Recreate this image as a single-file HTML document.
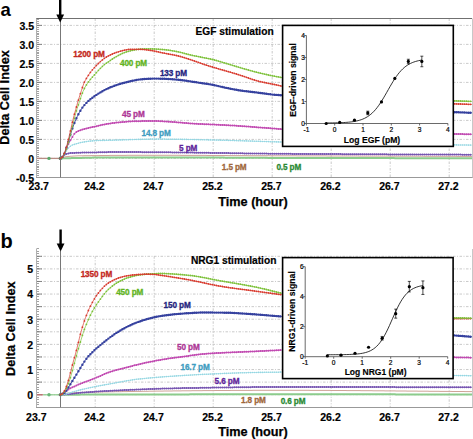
<!DOCTYPE html>
<html><head><meta charset="utf-8"><style>
html,body{margin:0;padding:0;background:#fff;width:473px;height:439px;overflow:hidden;}
svg{display:block;font-family:"Liberation Sans",sans-serif;}
</style></head><body>
<svg width="473" height="439" viewBox="0 0 473 439"><text x="0.6" y="15.6" font-family="Liberation Sans, sans-serif" font-weight="bold" font-size="18.5">a</text>
<line x1="37" y1="25.40" x2="472" y2="25.40" stroke="#bdbdbd" stroke-width="0.8" stroke-dasharray="2.5,1.5,1,1.5"/>
<line x1="37" y1="44.40" x2="472" y2="44.40" stroke="#bdbdbd" stroke-width="0.8" stroke-dasharray="2.5,1.5,1,1.5"/>
<line x1="37" y1="63.40" x2="472" y2="63.40" stroke="#bdbdbd" stroke-width="0.8" stroke-dasharray="2.5,1.5,1,1.5"/>
<line x1="37" y1="82.40" x2="472" y2="82.40" stroke="#bdbdbd" stroke-width="0.8" stroke-dasharray="2.5,1.5,1,1.5"/>
<line x1="37" y1="101.40" x2="472" y2="101.40" stroke="#bdbdbd" stroke-width="0.8" stroke-dasharray="2.5,1.5,1,1.5"/>
<line x1="37" y1="120.40" x2="472" y2="120.40" stroke="#bdbdbd" stroke-width="0.8" stroke-dasharray="2.5,1.5,1,1.5"/>
<line x1="37" y1="139.40" x2="472" y2="139.40" stroke="#bdbdbd" stroke-width="0.8" stroke-dasharray="2.5,1.5,1,1.5"/>
<line x1="37" y1="158.40" x2="472" y2="158.40" stroke="#bdbdbd" stroke-width="0.8" stroke-dasharray="2.5,1.5,1,1.5"/>
<line x1="95.20" y1="18.50" x2="95.20" y2="177.50" stroke="#bdbdbd" stroke-width="0.8" stroke-dasharray="2.5,1.5,1,1.5"/>
<line x1="154.20" y1="18.50" x2="154.20" y2="177.50" stroke="#bdbdbd" stroke-width="0.8" stroke-dasharray="2.5,1.5,1,1.5"/>
<line x1="213.20" y1="18.50" x2="213.20" y2="177.50" stroke="#bdbdbd" stroke-width="0.8" stroke-dasharray="2.5,1.5,1,1.5"/>
<line x1="272.20" y1="18.50" x2="272.20" y2="177.50" stroke="#bdbdbd" stroke-width="0.8" stroke-dasharray="2.5,1.5,1,1.5"/>
<line x1="331.20" y1="18.50" x2="331.20" y2="177.50" stroke="#bdbdbd" stroke-width="0.8" stroke-dasharray="2.5,1.5,1,1.5"/>
<line x1="390.20" y1="18.50" x2="390.20" y2="177.50" stroke="#bdbdbd" stroke-width="0.8" stroke-dasharray="2.5,1.5,1,1.5"/>
<line x1="449.20" y1="18.50" x2="449.20" y2="177.50" stroke="#bdbdbd" stroke-width="0.8" stroke-dasharray="2.5,1.5,1,1.5"/>
<line x1="36.5" y1="177.50" x2="39" y2="177.50" stroke="#8a8a8a" stroke-width="0.8"/>
<line x1="36.5" y1="175.50" x2="39" y2="175.50" stroke="#8a8a8a" stroke-width="0.8"/>
<line x1="36.5" y1="173.50" x2="39" y2="173.50" stroke="#8a8a8a" stroke-width="0.8"/>
<line x1="36.5" y1="171.50" x2="39" y2="171.50" stroke="#8a8a8a" stroke-width="0.8"/>
<line x1="36.5" y1="169.50" x2="39" y2="169.50" stroke="#8a8a8a" stroke-width="0.8"/>
<line x1="36.5" y1="167.50" x2="39" y2="167.50" stroke="#8a8a8a" stroke-width="0.8"/>
<line x1="36.5" y1="166.50" x2="39" y2="166.50" stroke="#8a8a8a" stroke-width="0.8"/>
<line x1="36.5" y1="164.50" x2="39" y2="164.50" stroke="#8a8a8a" stroke-width="0.8"/>
<line x1="36.5" y1="162.50" x2="39" y2="162.50" stroke="#8a8a8a" stroke-width="0.8"/>
<line x1="36.5" y1="160.50" x2="39" y2="160.50" stroke="#8a8a8a" stroke-width="0.8"/>
<line x1="36.5" y1="158.50" x2="39" y2="158.50" stroke="#8a8a8a" stroke-width="0.8"/>
<line x1="36.5" y1="156.50" x2="39" y2="156.50" stroke="#8a8a8a" stroke-width="0.8"/>
<line x1="36.5" y1="154.50" x2="39" y2="154.50" stroke="#8a8a8a" stroke-width="0.8"/>
<line x1="36.5" y1="152.50" x2="39" y2="152.50" stroke="#8a8a8a" stroke-width="0.8"/>
<line x1="36.5" y1="150.50" x2="39" y2="150.50" stroke="#8a8a8a" stroke-width="0.8"/>
<line x1="36.5" y1="148.50" x2="39" y2="148.50" stroke="#8a8a8a" stroke-width="0.8"/>
<line x1="36.5" y1="147.50" x2="39" y2="147.50" stroke="#8a8a8a" stroke-width="0.8"/>
<line x1="36.5" y1="145.50" x2="39" y2="145.50" stroke="#8a8a8a" stroke-width="0.8"/>
<line x1="36.5" y1="143.50" x2="39" y2="143.50" stroke="#8a8a8a" stroke-width="0.8"/>
<line x1="36.5" y1="141.50" x2="39" y2="141.50" stroke="#8a8a8a" stroke-width="0.8"/>
<line x1="36.5" y1="139.50" x2="39" y2="139.50" stroke="#8a8a8a" stroke-width="0.8"/>
<line x1="36.5" y1="137.50" x2="39" y2="137.50" stroke="#8a8a8a" stroke-width="0.8"/>
<line x1="36.5" y1="135.50" x2="39" y2="135.50" stroke="#8a8a8a" stroke-width="0.8"/>
<line x1="36.5" y1="133.50" x2="39" y2="133.50" stroke="#8a8a8a" stroke-width="0.8"/>
<line x1="36.5" y1="131.50" x2="39" y2="131.50" stroke="#8a8a8a" stroke-width="0.8"/>
<line x1="36.5" y1="129.50" x2="39" y2="129.50" stroke="#8a8a8a" stroke-width="0.8"/>
<line x1="36.5" y1="128.50" x2="39" y2="128.50" stroke="#8a8a8a" stroke-width="0.8"/>
<line x1="36.5" y1="126.50" x2="39" y2="126.50" stroke="#8a8a8a" stroke-width="0.8"/>
<line x1="36.5" y1="124.50" x2="39" y2="124.50" stroke="#8a8a8a" stroke-width="0.8"/>
<line x1="36.5" y1="122.50" x2="39" y2="122.50" stroke="#8a8a8a" stroke-width="0.8"/>
<line x1="36.5" y1="120.50" x2="39" y2="120.50" stroke="#8a8a8a" stroke-width="0.8"/>
<line x1="36.5" y1="118.50" x2="39" y2="118.50" stroke="#8a8a8a" stroke-width="0.8"/>
<line x1="36.5" y1="116.50" x2="39" y2="116.50" stroke="#8a8a8a" stroke-width="0.8"/>
<line x1="36.5" y1="114.50" x2="39" y2="114.50" stroke="#8a8a8a" stroke-width="0.8"/>
<line x1="36.5" y1="112.50" x2="39" y2="112.50" stroke="#8a8a8a" stroke-width="0.8"/>
<line x1="36.5" y1="110.50" x2="39" y2="110.50" stroke="#8a8a8a" stroke-width="0.8"/>
<line x1="36.5" y1="108.50" x2="39" y2="108.50" stroke="#8a8a8a" stroke-width="0.8"/>
<line x1="36.5" y1="107.50" x2="39" y2="107.50" stroke="#8a8a8a" stroke-width="0.8"/>
<line x1="36.5" y1="105.50" x2="39" y2="105.50" stroke="#8a8a8a" stroke-width="0.8"/>
<line x1="36.5" y1="103.50" x2="39" y2="103.50" stroke="#8a8a8a" stroke-width="0.8"/>
<line x1="36.5" y1="101.50" x2="39" y2="101.50" stroke="#8a8a8a" stroke-width="0.8"/>
<line x1="36.5" y1="99.50" x2="39" y2="99.50" stroke="#8a8a8a" stroke-width="0.8"/>
<line x1="36.5" y1="97.50" x2="39" y2="97.50" stroke="#8a8a8a" stroke-width="0.8"/>
<line x1="36.5" y1="95.50" x2="39" y2="95.50" stroke="#8a8a8a" stroke-width="0.8"/>
<line x1="36.5" y1="93.50" x2="39" y2="93.50" stroke="#8a8a8a" stroke-width="0.8"/>
<line x1="36.5" y1="91.50" x2="39" y2="91.50" stroke="#8a8a8a" stroke-width="0.8"/>
<line x1="36.5" y1="89.50" x2="39" y2="89.50" stroke="#8a8a8a" stroke-width="0.8"/>
<line x1="36.5" y1="88.50" x2="39" y2="88.50" stroke="#8a8a8a" stroke-width="0.8"/>
<line x1="36.5" y1="86.50" x2="39" y2="86.50" stroke="#8a8a8a" stroke-width="0.8"/>
<line x1="36.5" y1="84.50" x2="39" y2="84.50" stroke="#8a8a8a" stroke-width="0.8"/>
<line x1="36.5" y1="82.50" x2="39" y2="82.50" stroke="#8a8a8a" stroke-width="0.8"/>
<line x1="36.5" y1="80.50" x2="39" y2="80.50" stroke="#8a8a8a" stroke-width="0.8"/>
<line x1="36.5" y1="78.50" x2="39" y2="78.50" stroke="#8a8a8a" stroke-width="0.8"/>
<line x1="36.5" y1="76.50" x2="39" y2="76.50" stroke="#8a8a8a" stroke-width="0.8"/>
<line x1="36.5" y1="74.50" x2="39" y2="74.50" stroke="#8a8a8a" stroke-width="0.8"/>
<line x1="36.5" y1="72.50" x2="39" y2="72.50" stroke="#8a8a8a" stroke-width="0.8"/>
<line x1="36.5" y1="71.50" x2="39" y2="71.50" stroke="#8a8a8a" stroke-width="0.8"/>
<line x1="36.5" y1="69.50" x2="39" y2="69.50" stroke="#8a8a8a" stroke-width="0.8"/>
<line x1="36.5" y1="67.50" x2="39" y2="67.50" stroke="#8a8a8a" stroke-width="0.8"/>
<line x1="36.5" y1="65.50" x2="39" y2="65.50" stroke="#8a8a8a" stroke-width="0.8"/>
<line x1="36.5" y1="63.50" x2="39" y2="63.50" stroke="#8a8a8a" stroke-width="0.8"/>
<line x1="36.5" y1="61.50" x2="39" y2="61.50" stroke="#8a8a8a" stroke-width="0.8"/>
<line x1="36.5" y1="59.50" x2="39" y2="59.50" stroke="#8a8a8a" stroke-width="0.8"/>
<line x1="36.5" y1="57.50" x2="39" y2="57.50" stroke="#8a8a8a" stroke-width="0.8"/>
<line x1="36.5" y1="55.50" x2="39" y2="55.50" stroke="#8a8a8a" stroke-width="0.8"/>
<line x1="36.5" y1="53.50" x2="39" y2="53.50" stroke="#8a8a8a" stroke-width="0.8"/>
<line x1="36.5" y1="52.50" x2="39" y2="52.50" stroke="#8a8a8a" stroke-width="0.8"/>
<line x1="36.5" y1="50.50" x2="39" y2="50.50" stroke="#8a8a8a" stroke-width="0.8"/>
<line x1="36.5" y1="48.50" x2="39" y2="48.50" stroke="#8a8a8a" stroke-width="0.8"/>
<line x1="36.5" y1="46.50" x2="39" y2="46.50" stroke="#8a8a8a" stroke-width="0.8"/>
<line x1="36.5" y1="44.50" x2="39" y2="44.50" stroke="#8a8a8a" stroke-width="0.8"/>
<line x1="36.5" y1="42.50" x2="39" y2="42.50" stroke="#8a8a8a" stroke-width="0.8"/>
<line x1="36.5" y1="40.50" x2="39" y2="40.50" stroke="#8a8a8a" stroke-width="0.8"/>
<line x1="36.5" y1="38.50" x2="39" y2="38.50" stroke="#8a8a8a" stroke-width="0.8"/>
<line x1="36.5" y1="36.50" x2="39" y2="36.50" stroke="#8a8a8a" stroke-width="0.8"/>
<line x1="36.5" y1="34.50" x2="39" y2="34.50" stroke="#8a8a8a" stroke-width="0.8"/>
<line x1="36.5" y1="33.50" x2="39" y2="33.50" stroke="#8a8a8a" stroke-width="0.8"/>
<line x1="36.5" y1="31.50" x2="39" y2="31.50" stroke="#8a8a8a" stroke-width="0.8"/>
<line x1="36.5" y1="29.50" x2="39" y2="29.50" stroke="#8a8a8a" stroke-width="0.8"/>
<line x1="36.5" y1="27.50" x2="39" y2="27.50" stroke="#8a8a8a" stroke-width="0.8"/>
<line x1="36.5" y1="25.50" x2="39" y2="25.50" stroke="#8a8a8a" stroke-width="0.8"/>
<line x1="36.5" y1="23.50" x2="39" y2="23.50" stroke="#8a8a8a" stroke-width="0.8"/>
<line x1="36.5" y1="21.50" x2="39" y2="21.50" stroke="#8a8a8a" stroke-width="0.8"/>
<line x1="36.5" y1="19.50" x2="39" y2="19.50" stroke="#8a8a8a" stroke-width="0.8"/>
<line x1="36.5" y1="25.40" x2="42" y2="25.40" stroke="#777" stroke-width="0.9"/>
<line x1="36.5" y1="44.40" x2="42" y2="44.40" stroke="#777" stroke-width="0.9"/>
<line x1="36.5" y1="63.40" x2="42" y2="63.40" stroke="#777" stroke-width="0.9"/>
<line x1="36.5" y1="82.40" x2="42" y2="82.40" stroke="#777" stroke-width="0.9"/>
<line x1="36.5" y1="101.40" x2="42" y2="101.40" stroke="#777" stroke-width="0.9"/>
<line x1="36.5" y1="120.40" x2="42" y2="120.40" stroke="#777" stroke-width="0.9"/>
<line x1="36.5" y1="139.40" x2="42" y2="139.40" stroke="#777" stroke-width="0.9"/>
<line x1="36.5" y1="158.40" x2="42" y2="158.40" stroke="#777" stroke-width="0.9"/>
<line x1="36.5" y1="18.50" x2="36.5" y2="177.50" stroke="#b0b0b0" stroke-width="1"/>
<line x1="36" y1="177.50" x2="473" y2="177.50" stroke="#999" stroke-width="1"/>
<line x1="472.5" y1="18.50" x2="472.5" y2="177.50" stroke="#c8c8c8" stroke-width="1"/>
<line x1="36.3" y1="18.50" x2="472" y2="18.50" stroke="#707070" stroke-width="1"/>
<text x="34" y="29.80" font-family="Liberation Sans, sans-serif" font-weight="bold" font-size="10.5" text-anchor="end" stroke="#000" stroke-width="0.2">3.5</text>
<text x="34" y="48.80" font-family="Liberation Sans, sans-serif" font-weight="bold" font-size="10.5" text-anchor="end" stroke="#000" stroke-width="0.2">3.0</text>
<text x="34" y="67.80" font-family="Liberation Sans, sans-serif" font-weight="bold" font-size="10.5" text-anchor="end" stroke="#000" stroke-width="0.2">2.5</text>
<text x="34" y="86.80" font-family="Liberation Sans, sans-serif" font-weight="bold" font-size="10.5" text-anchor="end" stroke="#000" stroke-width="0.2">2.0</text>
<text x="34" y="105.80" font-family="Liberation Sans, sans-serif" font-weight="bold" font-size="10.5" text-anchor="end" stroke="#000" stroke-width="0.2">1.5</text>
<text x="34" y="124.80" font-family="Liberation Sans, sans-serif" font-weight="bold" font-size="10.5" text-anchor="end" stroke="#000" stroke-width="0.2">1.0</text>
<text x="34" y="143.80" font-family="Liberation Sans, sans-serif" font-weight="bold" font-size="10.5" text-anchor="end" stroke="#000" stroke-width="0.2">0.5</text>
<text x="34" y="162.80" font-family="Liberation Sans, sans-serif" font-weight="bold" font-size="10.5" text-anchor="end" stroke="#000" stroke-width="0.2">0</text>
<text x="34" y="181.80" font-family="Liberation Sans, sans-serif" font-weight="bold" font-size="10.5" text-anchor="end" stroke="#000" stroke-width="0.2">-0.5</text>
<text x="38.70" y="190.4" font-family="Liberation Sans, sans-serif" font-weight="bold" font-size="10.5" text-anchor="middle" stroke="#000" stroke-width="0.2">23.7</text>
<text x="94.40" y="190.4" font-family="Liberation Sans, sans-serif" font-weight="bold" font-size="10.5" text-anchor="middle" stroke="#000" stroke-width="0.2">24.2</text>
<text x="153.40" y="190.4" font-family="Liberation Sans, sans-serif" font-weight="bold" font-size="10.5" text-anchor="middle" stroke="#000" stroke-width="0.2">24.7</text>
<text x="212.40" y="190.4" font-family="Liberation Sans, sans-serif" font-weight="bold" font-size="10.5" text-anchor="middle" stroke="#000" stroke-width="0.2">25.2</text>
<text x="271.40" y="190.4" font-family="Liberation Sans, sans-serif" font-weight="bold" font-size="10.5" text-anchor="middle" stroke="#000" stroke-width="0.2">25.7</text>
<text x="330.40" y="190.4" font-family="Liberation Sans, sans-serif" font-weight="bold" font-size="10.5" text-anchor="middle" stroke="#000" stroke-width="0.2">26.2</text>
<text x="389.40" y="190.4" font-family="Liberation Sans, sans-serif" font-weight="bold" font-size="10.5" text-anchor="middle" stroke="#000" stroke-width="0.2">26.7</text>
<text x="448.40" y="190.4" font-family="Liberation Sans, sans-serif" font-weight="bold" font-size="10.5" text-anchor="middle" stroke="#000" stroke-width="0.2">27.2</text>
<text x="253" y="205.5" font-family="Liberation Sans, sans-serif" font-weight="bold" font-size="12.7" text-anchor="middle" stroke="#000" stroke-width="0.25">Time (hour)</text>
<text transform="translate(9.4,97.5) rotate(-90)" font-family="Liberation Sans, sans-serif" font-weight="bold" font-size="12.7" text-anchor="middle" stroke="#000" stroke-width="0.25">Delta Cell Index</text>
<line x1="60.5" y1="18" x2="60.5" y2="177.4" stroke="#777" stroke-width="1"/>
<line x1="37" y1="158.4" x2="60.4" y2="158.4" stroke="#b88c84" stroke-width="1.3"/>
<circle cx="49" cy="158.4" r="1.7" fill="#5aa86a"/><circle cx="60.4" cy="158.4" r="1.8" fill="#5aa86a"/>
<path d="M60.4,158.4 61.4,158.4 62.4,158.4 63.4,158.3 64.5,158.3 65.5,158.3 66.5,158.3 67.5,158.2 68.5,158.2 69.5,158.2 70.6,158.2 71.6,158.1 72.6,158.1 73.6,158.1 74.6,158.0 75.6,158.0 76.6,158.0 77.7,158.0 78.7,157.9 79.7,157.9 80.7,157.9 81.7,157.9 82.7,157.8 83.8,157.8 84.8,157.8 85.8,157.8 86.8,157.7 87.8,157.7 88.8,157.7 89.8,157.7 90.9,157.7 91.9,157.7 92.9,157.6 93.9,157.6 94.9,157.6 95.9,157.6 97.0,157.6 98.0,157.6 99.0,157.6 100.0,157.6 101.0,157.6 102.0,157.6 103.0,157.6 104.0,157.6 105.0,157.6 106.0,157.6 107.0,157.6 108.0,157.6 109.0,157.6 110.0,157.6 111.0,157.6 112.0,157.6 113.0,157.6 114.0,157.6 115.0,157.6 116.0,157.6 117.0,157.6 118.0,157.6 119.0,157.6 120.0,157.6 121.0,157.6 122.0,157.6 123.0,157.6 124.0,157.6 125.0,157.6 126.0,157.6 127.0,157.6 128.0,157.6 129.0,157.6 130.0,157.6 131.0,157.6 132.0,157.6 133.0,157.6 134.0,157.6 135.0,157.6 136.0,157.6 137.0,157.6 138.0,157.6 139.0,157.6 140.0,157.6 141.0,157.6 142.0,157.6 143.0,157.6 144.0,157.6 145.0,157.6 146.0,157.6 147.0,157.6 148.0,157.6 149.0,157.6 150.0,157.6 151.0,157.6 152.0,157.6 153.0,157.6 154.0,157.6 155.0,157.6 156.0,157.6 157.0,157.6 158.0,157.6 159.0,157.6 160.0,157.6 161.0,157.6 162.0,157.6 163.0,157.6 164.0,157.6 165.0,157.6 166.0,157.6 167.0,157.6 168.0,157.6 169.0,157.6 170.0,157.6 171.0,157.6 172.0,157.6 173.0,157.6 174.0,157.6 175.0,157.6 176.0,157.6 177.0,157.6 178.0,157.6 179.0,157.6 180.0,157.6 181.0,157.6 182.0,157.6 183.0,157.6 184.0,157.6 185.0,157.6 186.0,157.6 187.0,157.6 188.0,157.6 189.0,157.6 190.0,157.6 191.0,157.6 192.0,157.6 193.0,157.6 194.0,157.6 195.0,157.6 196.0,157.6 197.0,157.6 198.0,157.6 199.0,157.6 200.0,157.6 201.0,157.6 202.0,157.6 203.0,157.6 204.0,157.6 205.0,157.6 206.0,157.6 207.0,157.6 208.0,157.6 209.0,157.6 210.0,157.6 211.0,157.6 212.0,157.6 213.0,157.6 214.0,157.6 215.0,157.6 216.0,157.6 217.0,157.6 218.0,157.6 219.0,157.6 220.0,157.6 221.0,157.6 222.0,157.6 223.0,157.6 224.0,157.6 225.0,157.7 226.0,157.7 227.0,157.7 228.0,157.7 229.0,157.7 230.0,157.7 231.0,157.7 232.0,157.7 233.0,157.7 234.0,157.7 235.0,157.7 236.0,157.7 237.0,157.7 238.0,157.7 239.0,157.7 240.0,157.7 241.0,157.7 242.0,157.7 243.0,157.7 244.0,157.7 245.0,157.7 246.0,157.7 247.0,157.8 248.0,157.8 249.0,157.8 250.0,157.8 251.0,157.8 252.0,157.8 253.0,157.8 254.0,157.8 255.0,157.8 256.0,157.8 257.0,157.8 258.0,157.8 259.0,157.8 260.0,157.8 261.0,157.8 262.0,157.8 263.0,157.8 264.0,157.8 265.0,157.8 266.0,157.8 267.0,157.8 268.0,157.9 269.0,157.9 270.0,157.9 271.0,157.9 272.0,157.9 273.0,157.9 274.0,157.9 275.0,157.9 276.0,157.9 277.0,157.9 278.0,157.9 279.0,157.9 280.0,157.9 281.0,157.9 282.0,157.9 283.0,157.9 284.0,157.9 285.0,157.9 286.0,157.9 287.0,157.9 288.0,157.9 289.0,157.9 290.0,157.9 291.0,157.9 292.0,157.9 293.0,157.9 294.0,157.9 295.0,157.9 296.0,157.9 297.0,157.9 298.0,157.9 299.0,157.9 300.0,157.9 301.0,158.0 302.0,158.0 303.0,158.0 304.0,158.0 305.0,158.0 306.0,158.0 307.0,158.0 308.0,158.0 309.0,158.0 310.0,158.0 311.0,158.0 312.0,158.0 313.0,158.0 314.0,158.0 315.0,158.0 316.0,158.0 317.0,158.0 318.0,158.0 319.0,158.0 320.0,158.0 321.0,158.0 322.0,158.0 323.0,158.0 324.0,158.0 325.0,158.0 326.0,158.0 327.0,158.0 328.0,158.0 329.0,158.0 330.0,158.0 331.0,158.0 332.0,158.0 333.0,158.0 334.0,158.0 335.0,158.0 336.0,158.0 337.0,158.0 338.0,158.0 339.0,158.0 340.0,158.0 341.0,158.0 342.0,158.0 343.0,158.0 344.0,158.0 345.0,158.1 346.0,158.1 347.0,158.1 348.0,158.1 349.0,158.1 350.0,158.1 351.0,158.1 352.0,158.1 353.0,158.1 354.0,158.1 355.0,158.1 356.0,158.1 357.0,158.1 358.0,158.1 359.0,158.1 360.0,158.1 361.0,158.1 362.0,158.1 363.0,158.1 364.0,158.1 365.0,158.1 366.0,158.1 367.0,158.1 368.0,158.1 369.0,158.1 370.0,158.1 371.0,158.1 372.0,158.1 373.0,158.1 374.0,158.1 375.0,158.1 376.0,158.1 377.0,158.1 378.0,158.1 379.0,158.1 380.0,158.1 381.0,158.1 382.0,158.1 383.0,158.1 384.0,158.1 385.0,158.1 386.0,158.1 387.0,158.1 388.0,158.1 389.0,158.1 390.0,158.1 391.0,158.1 392.0,158.1 393.0,158.1 394.0,158.1 395.0,158.2 396.0,158.2 397.0,158.2 398.0,158.2 399.0,158.2 400.0,158.2 401.0,158.2 402.0,158.2 403.0,158.2 404.0,158.2 405.0,158.2 406.0,158.2 407.0,158.2 408.0,158.2 409.0,158.2 410.0,158.2 411.0,158.2 412.0,158.2 413.0,158.2 414.0,158.2 415.0,158.2 416.0,158.2 417.0,158.2 418.0,158.2 419.0,158.2 420.0,158.2 421.0,158.2 422.0,158.2 423.0,158.2 424.0,158.2 425.0,158.2 426.0,158.2 427.0,158.2 428.0,158.2 429.0,158.2 430.0,158.2 431.0,158.2 432.0,158.2 433.0,158.2 434.0,158.2 435.0,158.2 436.0,158.2 437.0,158.2 438.0,158.2 439.0,158.2 440.0,158.2 441.0,158.2 442.0,158.2 443.0,158.2 444.0,158.2 445.0,158.2 446.0,158.2 447.0,158.2 448.0,158.3 449.0,158.3 450.0,158.3 451.0,158.3 452.0,158.3 453.0,158.3 454.0,158.3 455.0,158.3 456.0,158.3 457.0,158.3 458.0,158.3 459.0,158.3 460.0,158.3 461.0,158.3 462.0,158.3 463.0,158.3 464.0,158.3 465.0,158.3 466.0,158.3 467.0,158.3 468.0,158.3 469.0,158.3 470.0,158.3 471.0,158.3 472.0,158.3" fill="none" stroke="#8ccc8c" stroke-width="2.0" stroke-linejoin="round"/>
<path d="M60.4,158.0 61.6,157.6 62.8,157.3 64.0,157.0 65.0,156.9 66.0,156.7 67.0,156.6 68.0,156.5 69.0,156.4 70.0,156.3 71.0,156.2 72.0,156.2 73.0,156.1 74.0,156.0 75.0,156.0 76.0,155.9 77.0,155.9 78.0,155.8 79.0,155.8 80.0,155.8 81.0,155.8 82.0,155.8 83.0,155.8 84.0,155.7 85.0,155.7 86.0,155.7 87.0,155.7 88.0,155.7 89.0,155.7 90.0,155.7 91.0,155.6 92.0,155.6 93.0,155.6 94.0,155.6 95.0,155.6 96.0,155.6 97.0,155.6 98.0,155.6 99.0,155.6 100.0,155.5 101.0,155.5 102.0,155.5 103.0,155.5 104.0,155.5 105.0,155.5 106.0,155.5 107.0,155.5 108.0,155.5 109.0,155.5 110.0,155.4 111.0,155.4 112.0,155.4 113.0,155.4 114.0,155.4 115.0,155.4 116.0,155.4 117.0,155.4 118.0,155.4 119.0,155.4 120.0,155.4 121.0,155.4 122.0,155.4 123.0,155.4 124.0,155.4 125.0,155.4 126.0,155.4 127.0,155.3 128.0,155.3 129.0,155.3 130.0,155.3 131.0,155.3 132.0,155.3 133.0,155.3 134.0,155.3 135.0,155.3 136.0,155.3 137.0,155.3 138.0,155.3 139.0,155.3 140.0,155.3 141.0,155.3 142.0,155.3 143.0,155.3 144.0,155.3 145.0,155.3 146.0,155.3 147.0,155.3 148.0,155.3 149.0,155.3 150.0,155.3 151.0,155.3 152.0,155.3 153.0,155.3 154.0,155.3 155.0,155.3 156.0,155.3 157.0,155.3 158.0,155.3 159.0,155.3 160.0,155.3 161.0,155.3 162.0,155.3 163.0,155.3 164.0,155.3 165.0,155.3 166.0,155.3 167.0,155.3 168.0,155.3 169.0,155.3 170.0,155.3 171.0,155.3 172.0,155.3 173.0,155.3 174.0,155.3 175.0,155.3 176.0,155.3 177.0,155.3 178.0,155.3 179.0,155.3 180.0,155.3 181.0,155.4 182.0,155.4 183.0,155.4 184.0,155.4 185.0,155.4 186.0,155.4 187.0,155.4 188.0,155.4 189.0,155.4 190.0,155.4 191.0,155.4 192.0,155.4 193.0,155.4 194.0,155.4 195.0,155.4 196.0,155.4 197.0,155.4 198.0,155.4 199.0,155.4 200.0,155.4 201.0,155.4 202.0,155.4 203.0,155.4 204.0,155.4 205.0,155.4 206.0,155.4 207.0,155.5 208.0,155.5 209.0,155.5 210.0,155.5 211.0,155.5 212.0,155.5 213.0,155.5 214.0,155.5 215.0,155.5 216.0,155.5 217.0,155.5 218.0,155.5 219.0,155.5 220.0,155.5 221.0,155.5 222.0,155.5 223.0,155.5 224.0,155.5 225.0,155.5 226.0,155.5 227.0,155.5 228.0,155.6 229.0,155.6 230.0,155.6 231.0,155.6 232.0,155.6 233.0,155.6 234.0,155.6 235.0,155.6 236.0,155.6 237.0,155.6 238.0,155.6 239.0,155.6 240.0,155.6 241.0,155.6 242.0,155.6 243.0,155.6 244.0,155.6 245.0,155.6 246.0,155.6 247.0,155.6 248.0,155.7 249.0,155.7 250.0,155.7 251.0,155.7 252.0,155.7 253.0,155.7 254.0,155.7 255.0,155.7 256.0,155.7 257.0,155.7 258.0,155.7 259.0,155.7 260.0,155.7 261.0,155.7 262.0,155.7 263.0,155.7 264.0,155.7 265.0,155.7 266.0,155.7 267.0,155.7 268.0,155.7 269.0,155.7 270.0,155.8 271.0,155.8 272.0,155.8 273.0,155.8 274.0,155.8 275.0,155.8 276.0,155.8 277.0,155.8 278.0,155.8 279.0,155.8 280.0,155.8 281.0,155.8 282.0,155.8 283.0,155.8 284.0,155.8 285.0,155.8 286.0,155.8 287.0,155.8 288.0,155.8 289.0,155.8 290.0,155.8 291.0,155.8 292.0,155.8 293.0,155.8 294.0,155.8 295.0,155.8 296.0,155.8 297.0,155.9 298.0,155.9 299.0,155.9 300.0,155.9 301.0,155.9 302.0,155.9 303.0,155.9 304.0,155.9 305.0,155.9 306.0,155.9 307.0,155.9 308.0,155.9 309.0,155.9 310.0,155.9 311.0,155.9 312.0,155.9 313.0,155.9 314.0,155.9 315.0,155.9 316.0,155.9 317.0,155.9 318.0,155.9 319.0,155.9 320.0,155.9 321.0,155.9 322.0,155.9 323.0,155.9 324.0,155.9 325.0,155.9 326.0,155.9 327.0,156.0 328.0,156.0 329.0,156.0 330.0,156.0 331.0,156.0 332.0,156.0 333.0,156.0 334.0,156.0 335.0,156.0 336.0,156.0 337.0,156.0 338.0,156.0 339.0,156.0 340.0,156.0 341.0,156.0 342.0,156.0 343.0,156.0 344.0,156.0 345.0,156.0 346.0,156.0 347.0,156.0 348.0,156.0 349.0,156.0 350.0,156.0 351.0,156.0 352.0,156.0 353.0,156.0 354.0,156.0 355.0,156.0 356.0,156.0 357.0,156.0 358.0,156.0 359.0,156.1 360.0,156.1 361.0,156.1 362.0,156.1 363.0,156.1 364.0,156.1 365.0,156.1 366.0,156.1 367.0,156.1 368.0,156.1 369.0,156.1 370.0,156.1 371.0,156.1 372.0,156.1 373.0,156.1 374.0,156.1 375.0,156.1 376.0,156.1 377.0,156.1 378.0,156.1 379.0,156.1 380.0,156.1 381.0,156.1 382.0,156.1 383.0,156.1 384.0,156.1 385.0,156.1 386.0,156.1 387.0,156.1 388.0,156.1 389.0,156.1 390.0,156.1 391.0,156.2 392.0,156.2 393.0,156.2 394.0,156.2 395.0,156.2 396.0,156.2 397.0,156.2 398.0,156.2 399.0,156.2 400.0,156.2 401.0,156.2 402.0,156.2 403.0,156.2 404.0,156.2 405.0,156.2 406.0,156.2 407.0,156.2 408.0,156.2 409.0,156.2 410.0,156.2 411.0,156.2 412.0,156.2 413.0,156.2 414.0,156.2 415.0,156.2 416.0,156.2 417.0,156.2 418.0,156.2 419.0,156.2 420.0,156.2 421.0,156.2 422.0,156.2 423.0,156.2 424.0,156.3 425.0,156.3 426.0,156.3 427.0,156.3 428.0,156.3 429.0,156.3 430.0,156.3 431.0,156.3 432.0,156.3 433.0,156.3 434.0,156.3 435.0,156.3 436.0,156.3 437.0,156.3 438.0,156.3 439.0,156.3 440.0,156.3 441.0,156.3 442.0,156.3 443.0,156.3 444.0,156.3 445.0,156.3 446.0,156.3 447.0,156.3 448.0,156.3 449.0,156.3 450.0,156.3 451.0,156.3 452.0,156.3 453.0,156.3 454.0,156.3 455.0,156.3 456.0,156.3 457.0,156.4 458.0,156.4 459.0,156.4 460.0,156.4 461.0,156.4 462.0,156.4 463.0,156.4 464.0,156.4 465.0,156.4 466.0,156.4 467.0,156.4 468.0,156.4 469.0,156.4 470.0,156.4 471.0,156.4 472.0,156.4" fill="none" stroke="#cfa498" stroke-width="1.0" stroke-linejoin="round"/>
<path d="M60.4,158.4 61.2,157.7 62.0,157.0 63.1,155.9 64.2,155.0 65.1,154.4 66.0,154.0 67.1,153.7 68.2,153.4 69.2,153.2 70.3,153.1 71.3,153.0 72.4,153.0 73.4,152.9 74.4,152.9 75.4,152.8 76.5,152.8 77.5,152.8 78.5,152.7 79.6,152.7 80.6,152.7 81.6,152.6 82.7,152.6 83.7,152.6 84.7,152.6 85.7,152.6 86.8,152.5 87.8,152.5 88.8,152.5 89.9,152.5 90.9,152.5 91.9,152.5 92.9,152.4 94.0,152.4 95.0,152.4 96.0,152.4 97.0,152.4 98.0,152.3 99.0,152.3 100.0,152.3 101.0,152.3 102.0,152.3 103.0,152.2 104.0,152.2 105.0,152.2 106.0,152.2 107.0,152.2 108.0,152.2 109.0,152.1 110.0,152.1 111.0,152.1 112.0,152.1 113.0,152.1 114.0,152.1 115.0,152.1 116.0,152.1 117.0,152.1 118.0,152.1 119.0,152.1 120.0,152.1 121.0,152.1 122.0,152.1 123.0,152.1 124.0,152.1 125.0,152.1 126.0,152.1 127.0,152.1 128.0,152.1 129.0,152.1 130.0,152.1 131.0,152.1 132.0,152.1 133.0,152.1 134.0,152.1 135.0,152.1 136.0,152.1 137.0,152.1 138.0,152.1 139.0,152.1 140.0,152.1 141.0,152.1 142.0,152.2 143.0,152.2 144.0,152.2 145.0,152.2 146.0,152.2 147.0,152.2 148.0,152.2 149.0,152.2 150.0,152.2 151.0,152.2 152.0,152.2 153.0,152.2 154.0,152.2 155.0,152.2 156.0,152.2 157.0,152.2 158.0,152.2 159.0,152.2 160.0,152.2 161.0,152.2 162.0,152.2 163.0,152.3 164.0,152.3 165.0,152.3 166.0,152.3 167.0,152.3 168.0,152.3 169.0,152.3 170.0,152.3 171.0,152.3 172.0,152.4 173.0,152.4 174.0,152.4 175.0,152.4 176.0,152.4 177.0,152.4 178.0,152.4 179.0,152.5 180.0,152.5 181.0,152.5 182.0,152.5 183.0,152.5 184.0,152.5 185.0,152.5 186.0,152.5 187.0,152.6 188.0,152.6 189.0,152.6 190.0,152.6 191.0,152.6 192.0,152.6 193.0,152.6 194.0,152.6 195.0,152.7 196.0,152.7 197.0,152.7 198.0,152.7 199.0,152.7 200.0,152.7 201.0,152.7 202.0,152.8 203.0,152.8 204.0,152.8 205.0,152.8 206.0,152.8 207.0,152.8 208.0,152.8 209.0,152.8 210.0,152.9 211.0,152.9 212.0,152.9 213.0,152.9 214.0,152.9 215.0,152.9 216.0,152.9 217.0,153.0 218.0,153.0 219.0,153.0 220.0,153.0 221.0,153.0 222.0,153.0 223.0,153.1 224.0,153.1 225.0,153.1 226.0,153.1 227.0,153.1 228.0,153.1 229.0,153.1 230.0,153.2 231.0,153.2 232.0,153.2 233.0,153.2 234.0,153.2 235.0,153.2 236.0,153.2 237.0,153.3 238.0,153.3 239.0,153.3 240.0,153.3 241.0,153.3 242.0,153.3 243.0,153.3 244.0,153.4 245.0,153.4 246.0,153.4 247.0,153.4 248.0,153.4 249.0,153.4 250.0,153.4 251.0,153.4 252.0,153.5 253.0,153.5 254.0,153.5 255.0,153.5 256.0,153.5 257.0,153.5 258.0,153.5 259.0,153.6 260.0,153.6 261.0,153.6 262.0,153.6 263.0,153.6 264.0,153.6 265.0,153.6 266.0,153.6 267.0,153.6 268.0,153.7 269.0,153.7 270.0,153.7 271.0,153.7 272.0,153.7 273.0,153.7 274.0,153.7 275.0,153.7 276.0,153.7 277.0,153.7 278.0,153.8 279.0,153.8 280.0,153.8 281.0,153.8 282.0,153.8 283.0,153.8 284.0,153.8 285.0,153.8 286.0,153.8 287.0,153.8 288.0,153.8 289.0,153.8 290.0,153.8 291.0,153.9 292.0,153.9 293.0,153.9 294.0,153.9 295.0,153.9 296.0,153.9 297.0,153.9 298.0,153.9 299.0,153.9 300.0,153.9 301.0,153.9 302.0,153.9 303.0,153.9 304.0,153.9 305.0,153.9 306.0,153.9 307.0,154.0 308.0,154.0 309.0,154.0 310.0,154.0 311.0,154.0 312.0,154.0 313.0,154.0 314.0,154.0 315.0,154.0 316.0,154.0 317.0,154.0 318.0,154.0 319.0,154.0 320.0,154.0 321.0,154.0 322.0,154.0 323.0,154.0 324.0,154.1 325.0,154.1 326.0,154.1 327.0,154.1 328.0,154.1 329.0,154.1 330.0,154.1 331.0,154.1 332.0,154.1 333.0,154.1 334.0,154.1 335.0,154.1 336.0,154.1 337.0,154.1 338.0,154.1 339.0,154.1 340.0,154.1 341.0,154.1 342.0,154.1 343.0,154.2 344.0,154.2 345.0,154.2 346.0,154.2 347.0,154.2 348.0,154.2 349.0,154.2 350.0,154.2 351.0,154.2 352.0,154.2 353.0,154.2 354.0,154.2 355.0,154.2 356.0,154.2 357.0,154.2 358.0,154.2 359.0,154.2 360.0,154.2 361.0,154.2 362.0,154.2 363.0,154.2 364.0,154.3 365.0,154.3 366.0,154.3 367.0,154.3 368.0,154.3 369.0,154.3 370.0,154.3 371.0,154.3 372.0,154.3 373.0,154.3 374.0,154.3 375.0,154.3 376.0,154.3 377.0,154.3 378.0,154.3 379.0,154.3 380.0,154.3 381.0,154.3 382.0,154.3 383.0,154.3 384.0,154.3 385.0,154.3 386.0,154.3 387.0,154.3 388.0,154.4 389.0,154.4 390.0,154.4 391.0,154.4 392.0,154.4 393.0,154.4 394.0,154.4 395.0,154.4 396.0,154.4 397.0,154.4 398.0,154.4 399.0,154.4 400.0,154.4 401.0,154.4 402.0,154.4 403.0,154.4 404.0,154.4 405.0,154.4 406.0,154.4 407.0,154.4 408.0,154.4 409.0,154.4 410.0,154.4 411.0,154.4 412.0,154.4 413.0,154.4 414.0,154.5 415.0,154.5 416.0,154.5 417.0,154.5 418.0,154.5 419.0,154.5 420.0,154.5 421.0,154.5 422.0,154.5 423.0,154.5 424.0,154.5 425.0,154.5 426.0,154.5 427.0,154.5 428.0,154.5 429.0,154.5 430.0,154.5 431.0,154.5 432.0,154.5 433.0,154.5 434.0,154.5 435.0,154.5 436.0,154.5 437.0,154.5 438.0,154.6 439.0,154.6 440.0,154.6 441.0,154.6 442.0,154.6 443.0,154.6 444.0,154.6 445.0,154.6 446.0,154.6 447.0,154.6 448.0,154.6 449.0,154.6 450.0,154.6 451.0,154.6 452.0,154.6 453.0,154.6 454.0,154.6 455.0,154.6 456.0,154.6 457.0,154.6 458.0,154.6 459.0,154.6 460.0,154.6 461.0,154.6 462.0,154.7 463.0,154.7 464.0,154.7 465.0,154.7 466.0,154.7 467.0,154.7 468.0,154.7 469.0,154.7 470.0,154.7 471.0,154.7 472.0,154.7" fill="none" stroke="#7452b0" stroke-width="0.7" stroke-linejoin="round"/>
<path d="M60.4 158.4h0M62.4 156.6h0M64.4 154.9h0M66.4 153.9h0M68.4 153.4h0M70.4 153.1h0M72.4 153.0h0M74.4 152.9h0M76.4 152.8h0M78.4 152.7h0M80.4 152.7h0M82.4 152.6h0M84.4 152.6h0M86.4 152.5h0M88.4 152.5h0M90.4 152.5h0M92.4 152.4h0M94.4 152.4h0M96.4 152.4h0M98.4 152.3h0M100.4 152.3h0M102.4 152.3h0M104.4 152.2h0M106.4 152.2h0M108.4 152.1h0M110.4 152.1h0M112.4 152.1h0M114.4 152.1h0M116.4 152.1h0M118.4 152.1h0M120.4 152.1h0M122.4 152.1h0M124.4 152.1h0M126.4 152.1h0M128.4 152.1h0M130.4 152.1h0M132.4 152.1h0M134.4 152.1h0M136.4 152.1h0M138.4 152.1h0M140.4 152.1h0M142.4 152.2h0M144.4 152.2h0M146.4 152.2h0M148.4 152.2h0M150.4 152.2h0M152.4 152.2h0M154.4 152.2h0M156.4 152.2h0M158.4 152.2h0M160.4 152.2h0M162.4 152.3h0M164.4 152.3h0M166.4 152.3h0M168.4 152.3h0M170.4 152.3h0M172.4 152.4h0M174.4 152.4h0M176.4 152.4h0M178.4 152.4h0M180.4 152.5h0M182.4 152.5h0M184.4 152.5h0M186.4 152.6h0M188.4 152.6h0M190.4 152.6h0M192.4 152.6h0M194.4 152.7h0M196.4 152.7h0M198.4 152.7h0M200.4 152.7h0M202.4 152.8h0M204.4 152.8h0M206.4 152.8h0M208.4 152.8h0M210.4 152.9h0M212.4 152.9h0M214.4 152.9h0M216.4 153.0h0M218.4 153.0h0M220.4 153.0h0M222.4 153.0h0M224.4 153.1h0M226.4 153.1h0M228.4 153.1h0M230.4 153.2h0M232.4 153.2h0M234.4 153.2h0M236.4 153.2h0M238.4 153.3h0M240.4 153.3h0M242.4 153.3h0M244.4 153.4h0M246.4 153.4h0M248.4 153.4h0M250.4 153.4h0M252.4 153.5h0M254.4 153.5h0M256.4 153.5h0M258.4 153.5h0M260.4 153.6h0M262.4 153.6h0M264.4 153.6h0M266.4 153.6h0M268.4 153.7h0M270.4 153.7h0M272.4 153.7h0M274.4 153.7h0M276.4 153.7h0M278.4 153.8h0M280.4 153.8h0M282.4 153.8h0M284.4 153.8h0M286.4 153.8h0M288.4 153.8h0M290.4 153.8h0M292.4 153.9h0M294.4 153.9h0M296.4 153.9h0M298.4 153.9h0M300.4 153.9h0M302.4 153.9h0M304.4 153.9h0M306.4 154.0h0M308.4 154.0h0M310.4 154.0h0M312.4 154.0h0M314.4 154.0h0M316.4 154.0h0M318.4 154.0h0M320.4 154.0h0M322.4 154.0h0M324.4 154.1h0M326.4 154.1h0M328.4 154.1h0M330.4 154.1h0M332.4 154.1h0M334.4 154.1h0M336.4 154.1h0M338.4 154.1h0M340.4 154.1h0M342.4 154.2h0M344.4 154.2h0M346.4 154.2h0M348.4 154.2h0M350.4 154.2h0M352.4 154.2h0M354.4 154.2h0M356.4 154.2h0M358.4 154.2h0M360.4 154.2h0M362.4 154.2h0M364.4 154.3h0M366.4 154.3h0M368.4 154.3h0M370.4 154.3h0M372.4 154.3h0M374.4 154.3h0M376.4 154.3h0M378.4 154.3h0M380.4 154.3h0M382.4 154.3h0M384.4 154.3h0M386.4 154.3h0M388.4 154.4h0M390.4 154.4h0M392.4 154.4h0M394.4 154.4h0M396.4 154.4h0M398.4 154.4h0M400.4 154.4h0M402.4 154.4h0M404.4 154.4h0M406.4 154.4h0M408.4 154.4h0M410.4 154.4h0M412.4 154.4h0M414.4 154.5h0M416.4 154.5h0M418.4 154.5h0M420.4 154.5h0M422.4 154.5h0M424.4 154.5h0M426.4 154.5h0M428.4 154.5h0M430.4 154.5h0M432.4 154.5h0M434.4 154.5h0M436.4 154.5h0M438.4 154.6h0M440.4 154.6h0M442.4 154.6h0M444.4 154.6h0M446.4 154.6h0M448.4 154.6h0M450.4 154.6h0M452.4 154.6h0M454.4 154.6h0M456.4 154.6h0M458.4 154.6h0M460.4 154.6h0M462.4 154.7h0M464.4 154.7h0M466.4 154.7h0M468.4 154.7h0M470.4 154.7h0" fill="none" stroke="#7452b0" stroke-width="2.0" stroke-linecap="round"/>
<path d="M60.4,158.4 61.2,157.9 62.0,157.3 63.0,156.3 64.0,155.0 65.0,153.3 66.0,151.5 67.0,149.9 68.0,148.5 69.0,147.4 70.0,146.5 71.2,145.6 72.4,145.0 73.5,144.6 74.6,144.3 75.7,144.0 76.9,143.6 78.2,143.2 79.4,142.9 80.6,142.6 81.6,142.4 82.7,142.2 83.7,142.0 84.7,141.9 85.7,141.7 86.8,141.5 87.8,141.4 88.8,141.3 89.9,141.1 90.9,141.0 91.9,140.9 92.9,140.8 94.0,140.8 95.0,140.7 96.0,140.7 97.0,140.6 98.0,140.6 99.0,140.5 100.0,140.5 101.0,140.5 102.0,140.4 103.0,140.4 104.0,140.4 105.0,140.3 106.0,140.3 107.0,140.3 108.0,140.3 109.0,140.3 110.0,140.2 111.0,140.2 112.0,140.2 113.0,140.2 114.0,140.1 115.0,140.1 116.0,140.1 117.0,140.0 118.0,140.0 119.0,140.0 120.0,139.9 121.0,139.9 122.0,139.9 123.0,139.8 124.0,139.8 125.0,139.8 126.0,139.8 127.0,139.7 128.0,139.7 129.0,139.7 130.0,139.6 131.0,139.6 132.0,139.6 133.0,139.6 134.0,139.5 135.0,139.5 136.0,139.5 137.0,139.4 138.0,139.4 139.0,139.4 140.0,139.4 141.0,139.3 142.0,139.3 143.0,139.3 144.0,139.3 145.0,139.2 146.0,139.2 147.0,139.2 148.0,139.2 149.0,139.2 150.0,139.1 151.0,139.1 152.0,139.1 153.0,139.1 154.0,139.1 155.0,139.1 156.0,139.1 157.0,139.1 158.0,139.1 159.0,139.1 160.0,139.1 161.0,139.1 162.0,139.1 163.0,139.1 164.0,139.1 165.0,139.1 166.0,139.2 167.0,139.2 168.0,139.2 169.0,139.2 170.0,139.2 171.0,139.2 172.0,139.2 173.0,139.2 174.0,139.3 175.0,139.3 176.0,139.3 177.0,139.3 178.0,139.3 179.0,139.3 180.0,139.3 181.0,139.4 182.0,139.4 183.0,139.4 184.0,139.4 185.0,139.4 186.0,139.4 187.0,139.5 188.0,139.5 189.0,139.5 190.0,139.5 191.0,139.5 192.0,139.5 193.0,139.5 194.0,139.6 195.0,139.6 196.0,139.6 197.0,139.6 198.0,139.6 199.0,139.7 200.0,139.7 201.0,139.7 202.0,139.7 203.0,139.7 204.0,139.8 205.0,139.8 206.0,139.8 207.0,139.8 208.0,139.9 209.0,139.9 210.0,139.9 211.0,139.9 212.0,139.9 213.0,140.0 214.0,140.0 215.0,140.0 216.0,140.0 217.0,140.1 218.0,140.1 219.0,140.1 220.0,140.2 221.0,140.2 222.0,140.2 223.0,140.2 224.0,140.3 225.0,140.3 226.0,140.3 227.0,140.4 228.0,140.4 229.0,140.4 230.0,140.4 231.0,140.5 232.0,140.5 233.0,140.5 234.0,140.6 235.0,140.6 236.0,140.6 237.0,140.7 238.0,140.7 239.0,140.7 240.0,140.7 241.0,140.8 242.0,140.8 243.0,140.8 244.0,140.9 245.0,140.9 246.0,140.9 247.0,141.0 248.0,141.0 249.0,141.0 250.0,141.1 251.0,141.1 252.0,141.1 253.0,141.2 254.0,141.2 255.0,141.2 256.0,141.3 257.0,141.3 258.0,141.3 259.0,141.3 260.0,141.4 261.0,141.4 262.0,141.4 263.0,141.5 264.0,141.5 265.0,141.5 266.0,141.6 267.0,141.6 268.0,141.6 269.0,141.7 270.0,141.7 271.0,141.7 272.0,141.8 273.0,141.8 274.0,141.8 275.0,141.8 276.0,141.9 277.0,141.9 278.0,141.9 279.0,142.0 280.0,142.0 281.0,142.0 282.0,142.0 283.0,142.1 284.0,142.1" fill="none" stroke="#94d6e2" stroke-width="0.6" stroke-linejoin="round"/>
<path d="M60.4 158.4h0M62.4 156.9h0M64.4 154.4h0M66.4 150.9h0M68.4 148.0h0M70.4 146.2h0M72.4 145.0h0M74.4 144.4h0M76.4 143.8h0M78.4 143.2h0M80.4 142.6h0M82.4 142.3h0M84.4 141.9h0M86.4 141.6h0M88.4 141.3h0M90.4 141.1h0M92.4 140.9h0M94.4 140.7h0M96.4 140.6h0M98.4 140.5h0M100.4 140.5h0M102.4 140.4h0M104.4 140.4h0M106.4 140.3h0M108.4 140.3h0M110.4 140.2h0M112.4 140.2h0M114.4 140.1h0M116.4 140.1h0M118.4 140.0h0M120.4 139.9h0M122.4 139.9h0M124.4 139.8h0M126.4 139.7h0M128.4 139.7h0M130.4 139.6h0M132.4 139.6h0M134.4 139.5h0M136.4 139.5h0M138.4 139.4h0M140.4 139.4h0M142.4 139.3h0M144.4 139.3h0M146.4 139.2h0M148.4 139.2h0M150.4 139.1h0M152.4 139.1h0M154.4 139.1h0M156.4 139.1h0M158.4 139.1h0M160.4 139.1h0M162.4 139.1h0M164.4 139.1h0M166.4 139.2h0M168.4 139.2h0M170.4 139.2h0M172.4 139.2h0M174.4 139.3h0M176.4 139.3h0M178.4 139.3h0M180.4 139.3h0M182.4 139.4h0M184.4 139.4h0M186.4 139.4h0M188.4 139.5h0M190.4 139.5h0M192.4 139.5h0M194.4 139.6h0M196.4 139.6h0M198.4 139.6h0M200.4 139.7h0M202.4 139.7h0M204.4 139.8h0M206.4 139.8h0M208.4 139.9h0M210.4 139.9h0M212.4 140.0h0M214.4 140.0h0M216.4 140.1h0M218.4 140.1h0M220.4 140.2h0M222.4 140.2h0M224.4 140.3h0M226.4 140.3h0M228.4 140.4h0M230.4 140.5h0M232.4 140.5h0M234.4 140.6h0M236.4 140.6h0M238.4 140.7h0M240.4 140.8h0M242.4 140.8h0M244.4 140.9h0M246.4 140.9h0M248.4 141.0h0M250.4 141.1h0M252.4 141.1h0M254.4 141.2h0M256.4 141.3h0M258.4 141.3h0M260.4 141.4h0M262.4 141.5h0M264.4 141.5h0M266.4 141.6h0M268.4 141.6h0M270.4 141.7h0M272.4 141.8h0M274.4 141.8h0M276.4 141.9h0M278.4 141.9h0M280.4 142.0h0M282.4 142.1h0" fill="none" stroke="#94d6e2" stroke-width="1.6" stroke-linecap="round"/>
<path d="M60.4,158.4 61.2,157.9 62.0,157.3 63.0,156.1 64.0,154.5 65.0,152.4 66.0,150.0 67.0,147.5 68.0,145.0 69.0,142.9 70.0,141.0 71.2,139.1 72.3,137.2 73.4,135.2 74.5,133.6 75.7,132.6 76.8,131.8 78.0,131.2 79.1,130.7 80.2,130.3 81.4,129.9 82.5,129.6 83.6,129.2 84.8,128.9 85.9,128.6 87.1,128.3 88.2,128.0 89.3,127.7 90.5,127.5 91.6,127.3 92.7,127.1 93.9,126.8 95.0,126.6 96.0,126.4 97.0,126.1 98.0,125.9 99.0,125.7 100.0,125.4 101.0,125.2 102.0,124.9 103.0,124.7 104.0,124.5 105.0,124.3 106.0,124.1 107.0,123.9 108.0,123.8 109.0,123.6 110.0,123.5 111.1,123.3 112.1,123.2 113.1,123.1 114.1,122.9 115.1,122.8 116.1,122.7 117.1,122.6 118.1,122.5 119.1,122.3 120.1,122.2 121.1,122.1 122.1,122.1 123.1,122.0 124.1,121.9 125.1,121.8 126.1,121.7 127.1,121.6 128.1,121.6 129.1,121.5 130.1,121.4 131.2,121.4 132.2,121.3 133.2,121.3 134.2,121.2 135.2,121.2 136.2,121.2 137.2,121.2 138.2,121.2 139.2,121.2 140.2,121.2 141.2,121.1 142.2,121.1 143.2,121.1 144.2,121.1 145.2,121.1 146.3,121.1 147.3,121.1 148.3,121.1 149.3,121.1 150.3,121.1 151.3,121.1 152.3,121.1 153.3,121.1 154.3,121.1 155.3,121.1 156.3,121.1 157.3,121.1 158.3,121.1 159.3,121.2 160.3,121.2 161.3,121.3 162.3,121.3 163.3,121.4 164.3,121.4 165.3,121.5 166.3,121.6 167.3,121.6 168.3,121.7 169.3,121.8 170.3,121.8 171.3,121.9 172.3,122.0 173.3,122.1 174.3,122.1 175.3,122.2 176.4,122.3 177.4,122.4 178.5,122.4 179.5,122.5 180.6,122.6 181.6,122.7 182.7,122.8 183.7,122.9 184.8,123.0 185.8,123.1 186.8,123.2 187.9,123.3 188.9,123.3 190.0,123.4 191.0,123.5 192.0,123.5 193.1,123.6 194.1,123.6 195.1,123.7 196.1,123.8 197.1,123.8 198.2,123.9 199.2,123.9 200.2,124.0 201.2,124.0 202.3,124.1 203.3,124.1 204.3,124.2 205.3,124.2 206.3,124.2 207.4,124.3 208.4,124.3 209.4,124.4 210.4,124.4 211.4,124.5 212.5,124.5 213.5,124.6 214.5,124.6 215.5,124.6 216.5,124.7 217.6,124.7 218.6,124.8 219.6,124.8 220.6,124.9 221.7,124.9 222.7,125.0 223.7,125.0 224.7,125.1 225.7,125.1 226.8,125.2 227.8,125.2 228.8,125.3 229.8,125.4 230.8,125.4 231.8,125.5 232.8,125.5 233.8,125.6 234.8,125.7 235.8,125.7 236.8,125.8 237.8,125.9 238.8,125.9 239.8,126.0 240.8,126.1 241.8,126.1 242.9,126.2 243.9,126.3 244.9,126.3 245.9,126.4 246.9,126.5 247.9,126.6 248.9,126.6 249.9,126.7 250.9,126.8 251.9,126.9 252.9,126.9 253.9,127.0 254.9,127.1 255.9,127.2 256.9,127.2 257.9,127.3 258.9,127.4 259.9,127.5 260.9,127.5 261.9,127.6 262.9,127.7 263.9,127.8 264.9,127.9 265.9,127.9 266.9,128.0 267.9,128.1 268.9,128.2 269.9,128.2 271.0,128.3 272.0,128.4 273.0,128.5 274.0,128.6 275.0,128.6 276.0,128.7 277.0,128.8 278.0,128.9 279.0,128.9 280.0,129.0 281.0,129.1 282.0,129.2 283.0,129.2 284.0,129.3" fill="none" stroke="#c048b0" stroke-width="0.8" stroke-linejoin="round"/>
<path d="M60.4 158.4h0M62.4 156.9h0M64.4 153.7h0M66.4 149.0h0M68.4 144.1h0M70.4 140.3h0M72.4 137.0h0M74.4 133.7h0M76.4 132.1h0M78.4 131.0h0M80.4 130.3h0M82.4 129.6h0M84.4 129.0h0M86.4 128.5h0M88.4 128.0h0M90.4 127.5h0M92.4 127.1h0M94.4 126.7h0M96.4 126.3h0M98.4 125.8h0M100.4 125.3h0M102.4 124.8h0M104.4 124.4h0M106.4 124.1h0M108.4 123.7h0M110.4 123.4h0M112.4 123.1h0M114.4 122.9h0M116.4 122.6h0M118.4 122.4h0M120.4 122.2h0M122.4 122.0h0M124.4 121.9h0M126.4 121.7h0M128.4 121.5h0M130.4 121.4h0M132.4 121.3h0M134.4 121.2h0M136.4 121.2h0M138.4 121.2h0M140.4 121.2h0M142.4 121.1h0M144.4 121.1h0M146.4 121.1h0M148.4 121.1h0M150.4 121.1h0M152.4 121.1h0M154.4 121.1h0M156.4 121.1h0M158.4 121.1h0M160.4 121.2h0M162.4 121.3h0M164.4 121.4h0M166.4 121.6h0M168.4 121.7h0M170.4 121.8h0M172.4 122.0h0M174.4 122.1h0M176.4 122.3h0M178.4 122.4h0M180.4 122.6h0M182.4 122.8h0M184.4 123.0h0M186.4 123.1h0M188.4 123.3h0M190.4 123.4h0M192.4 123.5h0M194.4 123.7h0M196.4 123.8h0M198.4 123.9h0M200.4 124.0h0M202.4 124.1h0M204.4 124.2h0M206.4 124.2h0M208.4 124.3h0M210.4 124.4h0M212.4 124.5h0M214.4 124.6h0M216.4 124.7h0M218.4 124.8h0M220.4 124.9h0M222.4 125.0h0M224.4 125.1h0M226.4 125.2h0M228.4 125.3h0M230.4 125.4h0M232.4 125.5h0M234.4 125.6h0M236.4 125.8h0M238.4 125.9h0M240.4 126.0h0M242.4 126.2h0M244.4 126.3h0M246.4 126.5h0M248.4 126.6h0M250.4 126.7h0M252.4 126.9h0M254.4 127.0h0M256.4 127.2h0M258.4 127.4h0M260.4 127.5h0M262.4 127.7h0M264.4 127.8h0M266.4 128.0h0M268.4 128.1h0M270.4 128.3h0M272.4 128.4h0M274.4 128.6h0M276.4 128.7h0M278.4 128.9h0M280.4 129.0h0M282.4 129.2h0" fill="none" stroke="#c048b0" stroke-width="2.0" stroke-linecap="round"/>
<path d="M60.4,158.4 61.2,158.0 62.0,157.5 63.0,156.3 64.0,154.5 65.0,152.0 66.0,149.0 67.4,144.8 68.8,140.3 70.2,135.3 71.7,130.5 72.8,127.4 73.8,124.5 74.9,121.8 76.1,119.0 77.3,116.4 78.5,114.0 79.5,112.2 80.5,110.5 81.5,108.9 82.5,107.5 83.6,106.1 84.7,104.7 85.8,103.5 86.9,102.4 88.0,101.3 89.1,100.3 90.2,99.4 91.3,98.5 92.3,97.7 93.4,96.9 94.5,96.2 95.6,95.4 96.6,94.7 97.6,94.1 98.7,93.4 99.7,92.8 100.7,92.2 101.8,91.6 102.8,91.0 103.8,90.4 104.9,89.8 106.0,89.3 107.0,88.8 108.1,88.3 109.1,87.9 110.2,87.4 111.3,87.0 112.3,86.6 113.4,86.2 114.5,85.8 115.5,85.4 116.6,85.0 117.6,84.7 118.7,84.3 119.7,84.0 120.8,83.7 121.8,83.4 122.8,83.1 123.9,82.8 125.0,82.6 126.0,82.3 127.1,82.0 128.1,81.8 129.2,81.5 130.3,81.3 131.3,81.0 132.4,80.8 133.4,80.6 134.5,80.4 135.6,80.1 136.6,79.9 137.6,79.7 138.7,79.6 139.8,79.5 140.8,79.4 141.9,79.2 143.0,79.2 144.0,79.1 145.1,79.0 146.2,78.9 147.3,78.9 148.4,78.8 149.5,78.8 150.6,78.7 151.7,78.7 152.8,78.6 153.9,78.6 155.0,78.6 156.0,78.6 157.0,78.6 158.0,78.6 159.0,78.6 160.0,78.7 161.0,78.7 162.0,78.7 163.0,78.7 164.0,78.8 165.0,78.8 166.0,78.8 167.0,78.9 168.0,78.9 169.0,79.0 170.0,79.1 171.0,79.2 172.0,79.2 173.0,79.3 174.0,79.4 175.0,79.5 176.0,79.6 177.1,79.7 178.1,79.8 179.2,79.9 180.2,80.0 181.3,80.1 182.3,80.2 183.4,80.4 184.4,80.5 185.5,80.6 186.5,80.8 187.6,80.9 188.6,81.1 189.7,81.3 190.7,81.4 191.8,81.6 192.8,81.8 193.9,81.9 194.9,82.1 196.0,82.3 197.0,82.4 198.1,82.6 199.2,82.8 200.2,82.9 201.3,83.1 202.4,83.2 203.4,83.4 204.5,83.5 205.6,83.7 206.7,83.8 207.7,84.0 208.8,84.2 209.9,84.3 210.9,84.5 212.0,84.7 213.0,84.9 214.0,85.1 215.0,85.3 216.1,85.5 217.1,85.8 218.1,86.0 219.1,86.2 220.1,86.5 221.1,86.7 222.1,87.0 223.1,87.2 224.2,87.4 225.2,87.7 226.2,87.9 227.2,88.1 228.2,88.3 229.2,88.5 230.2,88.7 231.3,88.9 232.3,89.1 233.3,89.3 234.3,89.5 235.3,89.6 236.3,89.8 237.3,90.0 238.3,90.2 239.4,90.3 240.4,90.5 241.4,90.7 242.4,90.8 243.4,90.9 244.4,91.1 245.5,91.2 246.5,91.3 247.5,91.4 248.5,91.6 249.5,91.7 250.6,91.8 251.6,91.9 252.6,92.0 253.6,92.1 254.6,92.2 255.7,92.4 256.7,92.5 257.7,92.6 258.7,92.7 259.7,92.9 260.7,93.0 261.8,93.1 262.8,93.3 263.8,93.4 264.8,93.6 265.8,93.7 266.8,93.9 267.8,94.0 268.8,94.1 269.9,94.3 270.9,94.4 271.9,94.5 272.9,94.6 273.9,94.7 274.9,94.8 275.9,94.8 276.9,94.9 277.9,95.0 279.0,95.1 280.0,95.1 281.0,95.2 282.0,95.3 283.0,95.3 284.0,95.4" fill="none" stroke="#34409e" stroke-width="0.9" stroke-linejoin="round"/>
<path d="M60.4 158.4h0M62.4 157.1h0M64.4 153.6h0M66.4 147.8h0M68.4 141.6h0M70.4 134.8h0M72.4 128.4h0M74.4 123.0h0M76.4 118.3h0M78.4 114.2h0M80.4 110.7h0M82.4 107.6h0M84.4 105.1h0M86.4 102.9h0M88.4 100.9h0M90.4 99.2h0M92.4 97.7h0M94.4 96.2h0M96.4 94.9h0M98.4 93.6h0M100.4 92.4h0M102.4 91.2h0M104.4 90.1h0M106.4 89.1h0M108.4 88.2h0M110.4 87.3h0M112.4 86.6h0M114.4 85.8h0M116.4 85.1h0M118.4 84.4h0M120.4 83.8h0M122.4 83.2h0M124.4 82.7h0M126.4 82.2h0M128.4 81.7h0M130.4 81.2h0M132.4 80.8h0M134.4 80.4h0M136.4 80.0h0M138.4 79.6h0M140.4 79.4h0M142.4 79.2h0M144.4 79.0h0M146.4 78.9h0M148.4 78.8h0M150.4 78.7h0M152.4 78.6h0M154.4 78.6h0M156.4 78.6h0M158.4 78.6h0M160.4 78.7h0M162.4 78.7h0M164.4 78.8h0M166.4 78.9h0M168.4 79.0h0M170.4 79.1h0M172.4 79.3h0M174.4 79.4h0M176.4 79.6h0M178.4 79.8h0M180.4 80.0h0M182.4 80.3h0M184.4 80.5h0M186.4 80.8h0M188.4 81.1h0M190.4 81.4h0M192.4 81.7h0M194.4 82.0h0M196.4 82.3h0M198.4 82.6h0M200.4 82.9h0M202.4 83.2h0M204.4 83.5h0M206.4 83.8h0M208.4 84.1h0M210.4 84.4h0M212.4 84.8h0M214.4 85.2h0M216.4 85.6h0M218.4 86.1h0M220.4 86.6h0M222.4 87.0h0M224.4 87.5h0M226.4 87.9h0M228.4 88.3h0M230.4 88.7h0M232.4 89.1h0M234.4 89.5h0M236.4 89.8h0M238.4 90.2h0M240.4 90.5h0M242.4 90.8h0M244.4 91.1h0M246.4 91.3h0M248.4 91.5h0M250.4 91.8h0M252.4 92.0h0M254.4 92.2h0M256.4 92.4h0M258.4 92.7h0M260.4 93.0h0M262.4 93.2h0M264.4 93.5h0M266.4 93.8h0M268.4 94.1h0M270.4 94.3h0M272.4 94.6h0M274.4 94.7h0M276.4 94.9h0M278.4 95.0h0M280.4 95.2h0M282.4 95.3h0" fill="none" stroke="#34409e" stroke-width="2.4" stroke-linecap="round"/>
<path d="M60.4,158.4 61.2,158.1 62.0,157.7 63.0,156.4 64.0,154.5 65.0,152.4 66.0,150.0 67.2,146.3 68.5,142.0 69.5,138.0 70.6,133.8 72.0,128.1 73.4,122.4 74.6,117.6 75.7,113.2 77.1,108.7 78.5,104.5 79.7,100.9 80.8,97.5 81.9,94.5 82.9,91.7 84.0,89.3 85.0,87.3 86.0,85.6 87.0,84.0 88.0,82.5 89.3,80.8 90.5,79.3 91.8,77.8 93.0,76.4 94.2,75.1 95.4,73.8 96.4,72.7 97.4,71.5 98.5,70.4 99.5,69.2 100.5,68.2 101.5,67.2 102.6,66.2 103.7,65.3 104.7,64.4 105.8,63.6 106.8,62.9 107.9,62.2 108.9,61.5 110.0,60.7 111.0,60.0 112.0,59.2 113.1,58.5 114.2,57.8 115.2,57.2 116.3,56.6 117.4,56.0 118.5,55.4 119.5,54.9 120.5,54.3 121.6,53.8 122.6,53.3 123.7,52.9 124.8,52.5 125.8,52.1 126.8,51.8 127.9,51.5 128.9,51.2 130.0,50.9 131.0,50.7 132.0,50.4 133.0,50.2 134.0,50.0 135.0,49.8 136.0,49.6 137.0,49.5 138.0,49.4 139.0,49.3 140.0,49.2 141.0,49.1 142.0,49.1 143.0,49.1 144.0,49.0 145.0,49.0 146.0,49.0 147.0,48.9 148.0,48.9 149.0,48.9 150.0,48.9 151.1,48.9 152.1,48.9 153.2,49.0 154.2,49.0 155.3,49.0 156.3,49.1 157.4,49.2 158.4,49.2 159.5,49.3 160.5,49.4 161.6,49.4 162.6,49.5 163.7,49.6 164.8,49.7 165.8,49.8 166.9,49.9 167.9,50.1 169.0,50.2 170.1,50.4 171.1,50.5 172.2,50.7 173.3,50.9 174.3,51.1 175.4,51.3 176.4,51.5 177.5,51.7 178.6,51.9 179.6,52.1 180.7,52.4 181.7,52.6 182.8,52.9 183.8,53.2 184.9,53.5 185.9,53.8 187.0,54.1 188.0,54.3 189.1,54.6 190.1,54.9 191.2,55.1 192.3,55.3 193.3,55.6 194.4,55.8 195.4,56.0 196.5,56.2 197.6,56.4 198.6,56.6 199.7,56.8 200.8,57.0 201.8,57.3 202.9,57.5 203.9,57.7 205.0,57.9 206.0,58.1 207.0,58.3 208.0,58.5 209.0,58.7 210.0,58.9 211.0,59.2 212.0,59.4 213.0,59.6 214.0,59.9 215.0,60.2 216.1,60.4 217.1,60.7 218.1,61.0 219.1,61.3 220.1,61.6 221.1,61.9 222.1,62.2 223.1,62.5 224.2,62.8 225.2,63.1 226.2,63.4 227.2,63.7 228.2,64.0 229.2,64.3 230.2,64.6 231.3,64.9 232.3,65.2 233.3,65.5 234.3,65.9 235.3,66.2 236.3,66.5 237.3,66.8 238.3,67.1 239.4,67.4 240.4,67.7 241.4,68.0 242.4,68.3 243.4,68.6 244.4,68.9 245.5,69.2 246.5,69.5 247.5,69.8 248.5,70.1 249.5,70.3 250.6,70.6 251.6,70.9 252.6,71.2 253.6,71.5 254.6,71.7 255.7,72.0 256.7,72.2 257.7,72.5 258.7,72.7 259.7,73.0 260.7,73.2 261.8,73.5 262.8,73.7 263.8,73.9 264.8,74.2 265.8,74.4 266.8,74.6 267.8,74.8 268.8,75.1 269.9,75.3 270.9,75.5 271.9,75.7 272.9,75.9 273.9,76.1 274.9,76.3 275.9,76.5 276.9,76.7 277.9,76.8 279.0,77.0 280.0,77.2 281.0,77.4 282.0,77.5 283.0,77.7 284.0,77.9" fill="none" stroke="#7dc13a" stroke-width="0.7" stroke-linejoin="round"/>
<path d="M60.4 158.4h0M62.4 157.3h0M64.4 153.7h0M66.4 148.9h0M68.4 142.4h0M70.4 134.6h0M72.4 126.5h0M74.4 118.3h0M76.4 110.9h0M78.4 104.8h0M80.4 98.6h0M82.4 93.1h0M84.4 88.5h0M86.4 84.9h0M88.4 81.9h0M90.4 79.4h0M92.4 77.1h0M94.4 74.9h0M96.4 72.7h0M98.4 70.4h0M100.4 68.3h0M102.4 66.4h0M104.4 64.6h0M106.4 63.2h0M108.4 61.8h0M110.4 60.4h0M112.4 59.0h0M114.4 57.7h0M116.4 56.6h0M118.4 55.4h0M120.4 54.4h0M122.4 53.4h0M124.4 52.6h0M126.4 51.9h0M128.4 51.3h0M130.4 50.8h0M132.4 50.3h0M134.4 49.9h0M136.4 49.6h0M138.4 49.3h0M140.4 49.2h0M142.4 49.1h0M144.4 49.0h0M146.4 48.9h0M148.4 48.9h0M150.4 48.9h0M152.4 48.9h0M154.4 49.0h0M156.4 49.1h0M158.4 49.2h0M160.4 49.4h0M162.4 49.5h0M164.4 49.7h0M166.4 49.9h0M168.4 50.1h0M170.4 50.4h0M172.4 50.8h0M174.4 51.1h0M176.4 51.5h0M178.4 51.9h0M180.4 52.3h0M182.4 52.8h0M184.4 53.4h0M186.4 53.9h0M188.4 54.4h0M190.4 54.9h0M192.4 55.4h0M194.4 55.8h0M196.4 56.2h0M198.4 56.6h0M200.4 57.0h0M202.4 57.4h0M204.4 57.8h0M206.4 58.2h0M208.4 58.6h0M210.4 59.0h0M212.4 59.5h0M214.4 60.0h0M216.4 60.5h0M218.4 61.1h0M220.4 61.7h0M222.4 62.3h0M224.4 62.9h0M226.4 63.5h0M228.4 64.1h0M230.4 64.7h0M232.4 65.3h0M234.4 65.9h0M236.4 66.5h0M238.4 67.1h0M240.4 67.7h0M242.4 68.3h0M244.4 68.9h0M246.4 69.4h0M248.4 70.0h0M250.4 70.6h0M252.4 71.1h0M254.4 71.7h0M256.4 72.2h0M258.4 72.7h0M260.4 73.2h0M262.4 73.6h0M264.4 74.1h0M266.4 74.5h0M268.4 75.0h0M270.4 75.4h0M272.4 75.8h0M274.4 76.2h0M276.4 76.6h0M278.4 76.9h0M280.4 77.3h0M282.4 77.6h0" fill="none" stroke="#7dc13a" stroke-width="1.8" stroke-linecap="round"/>
<path d="M60.4,158.4 61.2,158.0 62.0,157.5 63.0,156.1 64.0,154.0 65.0,151.5 66.0,148.5 67.0,144.9 68.0,141.0 69.0,136.9 70.0,132.6 71.2,127.6 72.3,122.6 73.4,118.1 74.5,113.8 75.7,109.6 76.8,105.6 77.9,101.6 79.1,97.8 80.3,94.0 81.5,90.3 82.8,86.4 84.0,83.0 85.0,80.9 86.0,79.1 87.0,77.5 88.0,75.9 89.0,74.4 90.0,72.9 91.0,71.6 92.0,70.3 93.1,69.0 94.3,67.8 95.4,66.6 96.5,65.4 97.7,64.2 98.8,63.1 99.9,62.0 101.0,61.0 102.1,60.1 103.2,59.2 104.4,58.4 105.5,57.6 106.6,56.9 107.8,56.2 108.9,55.6 110.0,55.1 111.0,54.6 112.0,54.1 113.1,53.7 114.2,53.3 115.2,52.9 116.3,52.5 117.4,52.1 118.5,51.8 119.5,51.5 120.5,51.2 121.6,50.9 122.6,50.6 123.7,50.4 124.8,50.1 125.8,49.9 126.8,49.7 127.9,49.5 128.9,49.4 130.0,49.3 131.0,49.3 132.0,49.3 133.0,49.3 134.0,49.3 135.0,49.3 136.0,49.3 137.0,49.3 138.0,49.3 139.0,49.3 140.0,49.3 141.0,49.3 142.0,49.4 143.0,49.4 144.0,49.5 145.0,49.6 146.0,49.8 147.0,49.9 148.0,50.0 149.0,50.2 150.0,50.3 151.1,50.5 152.1,50.6 153.2,50.8 154.2,51.0 155.3,51.2 156.3,51.5 157.4,51.7 158.4,51.9 159.5,52.2 160.5,52.4 161.6,52.7 162.6,52.9 163.7,53.1 164.8,53.3 165.8,53.5 166.9,53.7 167.9,53.9 169.0,54.1 170.1,54.3 171.1,54.5 172.2,54.7 173.3,54.9 174.3,55.1 175.4,55.3 176.4,55.6 177.5,55.8 178.6,56.1 179.6,56.3 180.7,56.6 181.7,56.9 182.8,57.2 183.8,57.5 184.9,57.9 185.9,58.2 187.0,58.5 188.0,58.9 189.1,59.2 190.1,59.6 191.2,59.9 192.3,60.2 193.3,60.6 194.4,61.0 195.4,61.3 196.5,61.7 197.6,62.1 198.6,62.5 199.7,62.9 200.8,63.2 201.8,63.6 202.9,64.0 203.9,64.3 205.0,64.7 206.0,65.0 207.0,65.3 208.0,65.7 209.0,66.0 210.0,66.3 211.0,66.6 212.0,66.9 213.0,67.2 214.0,67.5 215.0,67.8 216.0,68.1 217.0,68.4 218.1,68.7 219.1,69.0 220.1,69.3 221.1,69.6 222.1,69.8 223.1,70.1 224.1,70.4 225.2,70.7 226.2,71.0 227.2,71.3 228.2,71.6 229.2,71.9 230.2,72.2 231.3,72.5 232.3,72.8 233.3,73.1 234.3,73.4 235.3,73.7 236.3,74.0 237.3,74.3 238.3,74.6 239.4,74.9 240.4,75.3 241.4,75.6 242.4,75.9 243.4,76.2 244.4,76.6 245.5,76.9 246.5,77.3 247.5,77.6 248.5,78.0 249.5,78.4 250.6,78.7 251.6,79.1 252.6,79.5 253.6,79.8 254.6,80.1 255.7,80.4 256.7,80.7 257.7,81.0 258.7,81.3 259.7,81.5 260.7,81.7 261.8,82.0 262.8,82.2 263.8,82.4 264.8,82.6 265.8,82.8 266.8,83.0 267.8,83.2 268.8,83.4 269.9,83.6 270.9,83.8 271.9,84.0 272.9,84.2 273.9,84.4 274.9,84.6 275.9,84.8 276.9,85.0 277.9,85.2 279.0,85.5 280.0,85.7 281.0,85.9 282.0,86.1 283.0,86.3 284.0,86.5" fill="none" stroke="#d83a2e" stroke-width="0.7" stroke-linejoin="round"/>
<path d="M60.4 158.4h0M62.4 157.1h0M64.4 153.1h0M66.4 147.2h0M68.4 139.4h0M70.4 130.9h0M72.4 122.2h0M74.4 114.2h0M76.4 107.0h0M78.4 100.1h0M80.4 93.7h0M82.4 87.5h0M84.4 82.1h0M86.4 78.4h0M88.4 75.3h0M90.4 72.4h0M92.4 69.8h0M94.4 67.6h0M96.4 65.5h0M98.4 63.5h0M100.4 61.6h0M102.4 59.9h0M104.4 58.3h0M106.4 57.0h0M108.4 55.9h0M110.4 54.9h0M112.4 54.0h0M114.4 53.2h0M116.4 52.4h0M118.4 51.8h0M120.4 51.2h0M122.4 50.7h0M124.4 50.2h0M126.4 49.8h0M128.4 49.4h0M130.4 49.3h0M132.4 49.3h0M134.4 49.3h0M136.4 49.3h0M138.4 49.3h0M140.4 49.3h0M142.4 49.4h0M144.4 49.6h0M146.4 49.8h0M148.4 50.1h0M150.4 50.4h0M152.4 50.7h0M154.4 51.1h0M156.4 51.5h0M158.4 51.9h0M160.4 52.4h0M162.4 52.8h0M164.4 53.2h0M166.4 53.6h0M168.4 54.0h0M170.4 54.3h0M172.4 54.7h0M174.4 55.1h0M176.4 55.5h0M178.4 56.0h0M180.4 56.5h0M182.4 57.1h0M184.4 57.7h0M186.4 58.3h0M188.4 59.0h0M190.4 59.6h0M192.4 60.3h0M194.4 61.0h0M196.4 61.7h0M198.4 62.4h0M200.4 63.1h0M202.4 63.8h0M204.4 64.5h0M206.4 65.2h0M208.4 65.8h0M210.4 66.4h0M212.4 67.0h0M214.4 67.6h0M216.4 68.2h0M218.4 68.8h0M220.4 69.4h0M222.4 69.9h0M224.4 70.5h0M226.4 71.1h0M228.4 71.7h0M230.4 72.2h0M232.4 72.8h0M234.4 73.4h0M236.4 74.0h0M238.4 74.7h0M240.4 75.3h0M242.4 75.9h0M244.4 76.6h0M246.4 77.3h0M248.4 78.0h0M250.4 78.7h0M252.4 79.4h0M254.4 80.0h0M256.4 80.6h0M258.4 81.2h0M260.4 81.7h0M262.4 82.1h0M264.4 82.5h0M266.4 82.9h0M268.4 83.3h0M270.4 83.7h0M272.4 84.1h0M274.4 84.5h0M276.4 84.9h0M278.4 85.3h0M280.4 85.8h0M282.4 86.2h0" fill="none" stroke="#d83a2e" stroke-width="1.8" stroke-linecap="round"/>
<path d="M453.0,144.9 454.0,144.9 455.0,144.9 456.0,144.9 457.0,144.9 458.0,145.0 459.0,145.0 460.0,145.0 461.0,145.0 462.0,145.0 463.0,145.0 464.0,145.0 465.0,145.0 466.0,145.0 467.0,145.0 468.0,145.1 469.0,145.1 470.0,145.1 471.0,145.1 472.0,145.1" fill="none" stroke="#94d6e2" stroke-width="0.6" stroke-linejoin="round"/>
<path d="M454.4 144.9h0M456.4 144.9h0M458.4 145.0h0M460.4 145.0h0M462.4 145.0h0M464.4 145.0h0M466.4 145.0h0M468.4 145.1h0M470.4 145.1h0" fill="none" stroke="#94d6e2" stroke-width="1.6" stroke-linecap="round"/>
<path d="M453.0,134.0 454.0,134.0 455.0,134.0 456.0,134.0 457.0,134.1 458.0,134.1 459.0,134.1 460.0,134.1 461.0,134.1 462.0,134.1 463.0,134.2 464.0,134.2 465.0,134.2 466.0,134.2 467.0,134.2 468.0,134.2 469.0,134.3 470.0,134.3 471.0,134.3 472.0,134.3" fill="none" stroke="#c048b0" stroke-width="0.8" stroke-linejoin="round"/>
<path d="M454.4 134.0h0M456.4 134.1h0M458.4 134.1h0M460.4 134.1h0M462.4 134.1h0M464.4 134.2h0M466.4 134.2h0M468.4 134.2h0M470.4 134.3h0" fill="none" stroke="#c048b0" stroke-width="2.0" stroke-linecap="round"/>
<path d="M453.0,112.1 454.0,112.1 455.0,112.2 456.0,112.2 457.0,112.2 458.0,112.3 459.0,112.3 460.0,112.4 461.0,112.4 462.0,112.4 463.0,112.5 464.0,112.5 465.0,112.5 466.0,112.6 467.0,112.6 468.0,112.7 469.0,112.7 470.0,112.7 471.0,112.8 472.0,112.8" fill="none" stroke="#34409e" stroke-width="0.9" stroke-linejoin="round"/>
<path d="M454.4 112.2h0M456.4 112.2h0M458.4 112.3h0M460.4 112.4h0M462.4 112.4h0M464.4 112.5h0M466.4 112.6h0M468.4 112.7h0M470.4 112.7h0" fill="none" stroke="#34409e" stroke-width="2.4" stroke-linecap="round"/>
<path d="M453.0,100.8 454.0,100.8 455.0,100.9 456.0,100.9 457.0,100.9 458.0,101.0 459.0,101.0 460.0,101.0 461.0,101.1 462.0,101.1 463.0,101.1 464.0,101.1 465.0,101.2 466.0,101.2 467.0,101.2 468.0,101.3 469.0,101.3 470.0,101.3 471.0,101.4 472.0,101.4" fill="none" stroke="#7dc13a" stroke-width="0.7" stroke-linejoin="round"/>
<path d="M454.4 100.8h0M456.4 100.9h0M458.4 101.0h0M460.4 101.0h0M462.4 101.1h0M464.4 101.2h0M466.4 101.2h0M468.4 101.3h0M470.4 101.3h0" fill="none" stroke="#7dc13a" stroke-width="1.8" stroke-linecap="round"/>
<path d="M453.0,103.8 454.0,103.8 455.0,103.9 456.0,103.9 457.0,103.9 458.0,104.0 459.0,104.0 460.0,104.0 461.0,104.1 462.0,104.1 463.0,104.1 464.0,104.1 465.0,104.2 466.0,104.2 467.0,104.2 468.0,104.3 469.0,104.3 470.0,104.3 471.0,104.4 472.0,104.4" fill="none" stroke="#d83a2e" stroke-width="0.7" stroke-linejoin="round"/>
<path d="M454.4 103.8h0M456.4 103.9h0M458.4 104.0h0M460.4 104.0h0M462.4 104.1h0M464.4 104.2h0M466.4 104.2h0M468.4 104.3h0M470.4 104.3h0" fill="none" stroke="#d83a2e" stroke-width="1.8" stroke-linecap="round"/>
<text x="73.30" y="56.60" font-family="Liberation Sans, sans-serif" font-weight="bold" font-size="8.2" fill="#c42820" stroke="#c42820" stroke-width="0.3" letter-spacing="-0.12">1200 pM</text>
<text x="120.00" y="65.80" font-family="Liberation Sans, sans-serif" font-weight="bold" font-size="8.2" fill="#62b41e" stroke="#62b41e" stroke-width="0.3" letter-spacing="-0.12">400 pM</text>
<text x="159.90" y="75.80" font-family="Liberation Sans, sans-serif" font-weight="bold" font-size="8.2" fill="#24247e" stroke="#24247e" stroke-width="0.3" letter-spacing="-0.12">133 pM</text>
<text x="122.00" y="117.20" font-family="Liberation Sans, sans-serif" font-weight="bold" font-size="8.2" fill="#ae3696" stroke="#ae3696" stroke-width="0.3" letter-spacing="-0.12">45 pM</text>
<text x="141.50" y="135.70" font-family="Liberation Sans, sans-serif" font-weight="bold" font-size="8.2" fill="#3e9cc0" stroke="#3e9cc0" stroke-width="0.3" letter-spacing="-0.12">14.8 pM</text>
<text x="179.10" y="151.10" font-family="Liberation Sans, sans-serif" font-weight="bold" font-size="8.2" fill="#5e249a" stroke="#5e249a" stroke-width="0.3" letter-spacing="-0.12">5 pM</text>
<text x="221.80" y="170.20" font-family="Liberation Sans, sans-serif" font-weight="bold" font-size="8.2" fill="#a0683c" stroke="#a0683c" stroke-width="0.3" letter-spacing="-0.12">1.5 pM</text>
<text x="276.40" y="170.40" font-family="Liberation Sans, sans-serif" font-weight="bold" font-size="8.2" fill="#2a8a34" stroke="#2a8a34" stroke-width="0.3" letter-spacing="-0.12">0.5 pM</text>
<text x="195.5" y="35.4" font-family="Liberation Sans, sans-serif" font-weight="bold" font-size="10.2" stroke="#000" stroke-width="0.2">EGF stimulation</text>
<line x1="60.2" y1="0" x2="60.2" y2="16" stroke="#000" stroke-width="2.4"/>
<polygon points="56.3,14.6 64.1,14.6 60.2,22.4" fill="#000"/>
<rect x="282.60" y="25.40" width="170.70" height="121.00" fill="#fff" stroke="#000" stroke-width="1.6"/>
<line x1="306.40" y1="123.50" x2="306.40" y2="35.50" stroke="#444" stroke-width="0.8"/>
<line x1="306.40" y1="123.50" x2="447.90" y2="123.50" stroke="#444" stroke-width="0.8"/>
<line x1="304.40" y1="123.50" x2="306.40" y2="123.50" stroke="#444" stroke-width="0.8"/>
<text x="304.80" y="125.90" font-family="Liberation Sans, sans-serif" font-size="6.6" text-anchor="end" stroke="#000" stroke-width="0.2">0</text>
<line x1="304.40" y1="101.50" x2="306.40" y2="101.50" stroke="#444" stroke-width="0.8"/>
<text x="304.80" y="103.90" font-family="Liberation Sans, sans-serif" font-size="6.6" text-anchor="end" stroke="#000" stroke-width="0.2">1</text>
<line x1="304.40" y1="79.50" x2="306.40" y2="79.50" stroke="#444" stroke-width="0.8"/>
<text x="304.80" y="81.90" font-family="Liberation Sans, sans-serif" font-size="6.6" text-anchor="end" stroke="#000" stroke-width="0.2">2</text>
<line x1="304.40" y1="57.50" x2="306.40" y2="57.50" stroke="#444" stroke-width="0.8"/>
<text x="304.80" y="59.90" font-family="Liberation Sans, sans-serif" font-size="6.6" text-anchor="end" stroke="#000" stroke-width="0.2">3</text>
<line x1="304.40" y1="35.50" x2="306.40" y2="35.50" stroke="#444" stroke-width="0.8"/>
<text x="304.80" y="37.90" font-family="Liberation Sans, sans-serif" font-size="6.6" text-anchor="end" stroke="#000" stroke-width="0.2">4</text>
<line x1="306.40" y1="123.50" x2="306.40" y2="125.50" stroke="#444" stroke-width="0.8"/>
<text x="306.40" y="131.50" font-family="Liberation Sans, sans-serif" font-size="6.6" text-anchor="middle" stroke="#000" stroke-width="0.2">-1</text>
<line x1="334.70" y1="123.50" x2="334.70" y2="125.50" stroke="#444" stroke-width="0.8"/>
<text x="334.70" y="131.50" font-family="Liberation Sans, sans-serif" font-size="6.6" text-anchor="middle" stroke="#000" stroke-width="0.2">0</text>
<line x1="363.00" y1="123.50" x2="363.00" y2="125.50" stroke="#444" stroke-width="0.8"/>
<text x="363.00" y="131.50" font-family="Liberation Sans, sans-serif" font-size="6.6" text-anchor="middle" stroke="#000" stroke-width="0.2">1</text>
<line x1="391.30" y1="123.50" x2="391.30" y2="125.50" stroke="#444" stroke-width="0.8"/>
<text x="391.30" y="131.50" font-family="Liberation Sans, sans-serif" font-size="6.6" text-anchor="middle" stroke="#000" stroke-width="0.2">2</text>
<line x1="419.60" y1="123.50" x2="419.60" y2="125.50" stroke="#444" stroke-width="0.8"/>
<text x="419.60" y="131.50" font-family="Liberation Sans, sans-serif" font-size="6.6" text-anchor="middle" stroke="#000" stroke-width="0.2">3</text>
<line x1="447.90" y1="123.50" x2="447.90" y2="125.50" stroke="#444" stroke-width="0.8"/>
<text x="447.90" y="131.50" font-family="Liberation Sans, sans-serif" font-size="6.6" text-anchor="middle" stroke="#000" stroke-width="0.2">4</text>
<polyline points="326.18,122.98 327.78,122.97 329.37,122.95 330.96,122.93 332.56,122.91 334.15,122.88 335.75,122.84 337.34,122.80 338.94,122.75 340.53,122.70 342.12,122.63 343.72,122.55 345.31,122.45 346.91,122.33 348.50,122.19 350.10,122.03 351.69,121.84 353.28,121.61 354.88,121.34 356.47,121.02 358.07,120.65 359.66,120.20 361.25,119.69 362.85,119.08 364.44,118.37 366.04,117.55 367.63,116.60 369.23,115.51 370.82,114.27 372.41,112.85 374.01,111.25 375.60,109.47 377.20,107.50 378.79,105.34 380.39,103.00 381.98,100.51 383.57,97.88 385.17,95.15 386.76,92.35 388.36,89.53 389.95,86.73 391.55,83.99 393.14,81.35 394.73,78.84 396.33,76.49 397.92,74.32 399.52,72.33 401.11,70.54 402.70,68.93 404.30,67.50 405.89,66.24 407.49,65.13 409.08,64.18 410.68,63.35 412.27,62.63 413.86,62.02 415.46,61.49 417.05,61.05 418.65,60.67 420.24,60.34 421.84,60.07" fill="none" stroke="#000" stroke-width="0.8"/>
<circle cx="326.18" cy="123.50" r="1.6" fill="#000"/>
<circle cx="339.68" cy="122.40" r="1.6" fill="#000"/>
<circle cx="354.48" cy="120.20" r="1.6" fill="#000"/>
<line x1="367.81" y1="111.18" x2="367.81" y2="114.70" stroke="#000" stroke-width="0.7"/>
<line x1="366.31" y1="111.18" x2="369.31" y2="111.18" stroke="#000" stroke-width="0.7"/>
<line x1="366.31" y1="114.70" x2="369.31" y2="114.70" stroke="#000" stroke-width="0.7"/>
<circle cx="367.81" cy="112.94" r="1.6" fill="#000"/>
<circle cx="381.48" cy="101.94" r="1.6" fill="#000"/>
<circle cx="394.81" cy="78.40" r="1.6" fill="#000"/>
<line x1="408.34" y1="59.26" x2="408.34" y2="63.66" stroke="#000" stroke-width="0.7"/>
<line x1="406.84" y1="59.26" x2="409.84" y2="59.26" stroke="#000" stroke-width="0.7"/>
<line x1="406.84" y1="63.66" x2="409.84" y2="63.66" stroke="#000" stroke-width="0.7"/>
<circle cx="408.34" cy="61.46" r="1.6" fill="#000"/>
<line x1="421.84" y1="56.18" x2="421.84" y2="66.74" stroke="#000" stroke-width="0.7"/>
<line x1="420.34" y1="56.18" x2="423.34" y2="56.18" stroke="#000" stroke-width="0.7"/>
<line x1="420.34" y1="66.74" x2="423.34" y2="66.74" stroke="#000" stroke-width="0.7"/>
<circle cx="421.84" cy="61.46" r="1.6" fill="#000"/>
<text transform="translate(295.80,80.00) rotate(-90)" font-family="Liberation Sans, sans-serif" font-weight="bold" font-size="8.6" text-anchor="middle" stroke="#000" stroke-width="0.15">EGF-driven signal</text>
<text x="372.00" y="142.70" font-family="Liberation Sans, sans-serif" font-weight="bold" font-size="8.6" text-anchor="middle" stroke="#000" stroke-width="0.15">Log EGF (pM)</text>
<text x="0.5" y="247.8" font-family="Liberation Sans, sans-serif" font-weight="bold" font-size="20">b</text>
<line x1="37" y1="256.32" x2="472" y2="256.32" stroke="#bdbdbd" stroke-width="0.8" stroke-dasharray="2.5,1.5,1,1.5"/>
<line x1="37" y1="268.90" x2="472" y2="268.90" stroke="#bdbdbd" stroke-width="0.8" stroke-dasharray="2.5,1.5,1,1.5"/>
<line x1="37" y1="281.48" x2="472" y2="281.48" stroke="#bdbdbd" stroke-width="0.8" stroke-dasharray="2.5,1.5,1,1.5"/>
<line x1="37" y1="294.06" x2="472" y2="294.06" stroke="#bdbdbd" stroke-width="0.8" stroke-dasharray="2.5,1.5,1,1.5"/>
<line x1="37" y1="306.64" x2="472" y2="306.64" stroke="#bdbdbd" stroke-width="0.8" stroke-dasharray="2.5,1.5,1,1.5"/>
<line x1="37" y1="319.22" x2="472" y2="319.22" stroke="#bdbdbd" stroke-width="0.8" stroke-dasharray="2.5,1.5,1,1.5"/>
<line x1="37" y1="331.80" x2="472" y2="331.80" stroke="#bdbdbd" stroke-width="0.8" stroke-dasharray="2.5,1.5,1,1.5"/>
<line x1="37" y1="344.38" x2="472" y2="344.38" stroke="#bdbdbd" stroke-width="0.8" stroke-dasharray="2.5,1.5,1,1.5"/>
<line x1="37" y1="356.96" x2="472" y2="356.96" stroke="#bdbdbd" stroke-width="0.8" stroke-dasharray="2.5,1.5,1,1.5"/>
<line x1="37" y1="369.54" x2="472" y2="369.54" stroke="#bdbdbd" stroke-width="0.8" stroke-dasharray="2.5,1.5,1,1.5"/>
<line x1="37" y1="382.12" x2="472" y2="382.12" stroke="#bdbdbd" stroke-width="0.8" stroke-dasharray="2.5,1.5,1,1.5"/>
<line x1="37" y1="394.70" x2="472" y2="394.70" stroke="#bdbdbd" stroke-width="0.8" stroke-dasharray="2.5,1.5,1,1.5"/>
<line x1="95.20" y1="256.30" x2="95.20" y2="407.50" stroke="#bdbdbd" stroke-width="0.8" stroke-dasharray="2.5,1.5,1,1.5"/>
<line x1="154.20" y1="256.30" x2="154.20" y2="407.50" stroke="#bdbdbd" stroke-width="0.8" stroke-dasharray="2.5,1.5,1,1.5"/>
<line x1="213.20" y1="256.30" x2="213.20" y2="407.50" stroke="#bdbdbd" stroke-width="0.8" stroke-dasharray="2.5,1.5,1,1.5"/>
<line x1="331.20" y1="256.30" x2="331.20" y2="407.50" stroke="#bdbdbd" stroke-width="0.8" stroke-dasharray="2.5,1.5,1,1.5"/>
<line x1="390.20" y1="256.30" x2="390.20" y2="407.50" stroke="#bdbdbd" stroke-width="0.8" stroke-dasharray="2.5,1.5,1,1.5"/>
<line x1="449.20" y1="256.30" x2="449.20" y2="407.50" stroke="#bdbdbd" stroke-width="0.8" stroke-dasharray="2.5,1.5,1,1.5"/>
<line x1="36.5" y1="407.50" x2="39" y2="407.50" stroke="#8a8a8a" stroke-width="0.8"/>
<line x1="36.5" y1="404.50" x2="39" y2="404.50" stroke="#8a8a8a" stroke-width="0.8"/>
<line x1="36.5" y1="402.50" x2="39" y2="402.50" stroke="#8a8a8a" stroke-width="0.8"/>
<line x1="36.5" y1="399.50" x2="39" y2="399.50" stroke="#8a8a8a" stroke-width="0.8"/>
<line x1="36.5" y1="397.50" x2="39" y2="397.50" stroke="#8a8a8a" stroke-width="0.8"/>
<line x1="36.5" y1="394.50" x2="39" y2="394.50" stroke="#8a8a8a" stroke-width="0.8"/>
<line x1="36.5" y1="392.50" x2="39" y2="392.50" stroke="#8a8a8a" stroke-width="0.8"/>
<line x1="36.5" y1="389.50" x2="39" y2="389.50" stroke="#8a8a8a" stroke-width="0.8"/>
<line x1="36.5" y1="387.50" x2="39" y2="387.50" stroke="#8a8a8a" stroke-width="0.8"/>
<line x1="36.5" y1="384.50" x2="39" y2="384.50" stroke="#8a8a8a" stroke-width="0.8"/>
<line x1="36.5" y1="382.50" x2="39" y2="382.50" stroke="#8a8a8a" stroke-width="0.8"/>
<line x1="36.5" y1="379.50" x2="39" y2="379.50" stroke="#8a8a8a" stroke-width="0.8"/>
<line x1="36.5" y1="377.50" x2="39" y2="377.50" stroke="#8a8a8a" stroke-width="0.8"/>
<line x1="36.5" y1="374.50" x2="39" y2="374.50" stroke="#8a8a8a" stroke-width="0.8"/>
<line x1="36.5" y1="372.50" x2="39" y2="372.50" stroke="#8a8a8a" stroke-width="0.8"/>
<line x1="36.5" y1="369.50" x2="39" y2="369.50" stroke="#8a8a8a" stroke-width="0.8"/>
<line x1="36.5" y1="367.50" x2="39" y2="367.50" stroke="#8a8a8a" stroke-width="0.8"/>
<line x1="36.5" y1="364.50" x2="39" y2="364.50" stroke="#8a8a8a" stroke-width="0.8"/>
<line x1="36.5" y1="361.50" x2="39" y2="361.50" stroke="#8a8a8a" stroke-width="0.8"/>
<line x1="36.5" y1="359.50" x2="39" y2="359.50" stroke="#8a8a8a" stroke-width="0.8"/>
<line x1="36.5" y1="356.50" x2="39" y2="356.50" stroke="#8a8a8a" stroke-width="0.8"/>
<line x1="36.5" y1="354.50" x2="39" y2="354.50" stroke="#8a8a8a" stroke-width="0.8"/>
<line x1="36.5" y1="351.50" x2="39" y2="351.50" stroke="#8a8a8a" stroke-width="0.8"/>
<line x1="36.5" y1="349.50" x2="39" y2="349.50" stroke="#8a8a8a" stroke-width="0.8"/>
<line x1="36.5" y1="346.50" x2="39" y2="346.50" stroke="#8a8a8a" stroke-width="0.8"/>
<line x1="36.5" y1="344.50" x2="39" y2="344.50" stroke="#8a8a8a" stroke-width="0.8"/>
<line x1="36.5" y1="341.50" x2="39" y2="341.50" stroke="#8a8a8a" stroke-width="0.8"/>
<line x1="36.5" y1="339.50" x2="39" y2="339.50" stroke="#8a8a8a" stroke-width="0.8"/>
<line x1="36.5" y1="336.50" x2="39" y2="336.50" stroke="#8a8a8a" stroke-width="0.8"/>
<line x1="36.5" y1="334.50" x2="39" y2="334.50" stroke="#8a8a8a" stroke-width="0.8"/>
<line x1="36.5" y1="331.50" x2="39" y2="331.50" stroke="#8a8a8a" stroke-width="0.8"/>
<line x1="36.5" y1="329.50" x2="39" y2="329.50" stroke="#8a8a8a" stroke-width="0.8"/>
<line x1="36.5" y1="326.50" x2="39" y2="326.50" stroke="#8a8a8a" stroke-width="0.8"/>
<line x1="36.5" y1="324.50" x2="39" y2="324.50" stroke="#8a8a8a" stroke-width="0.8"/>
<line x1="36.5" y1="321.50" x2="39" y2="321.50" stroke="#8a8a8a" stroke-width="0.8"/>
<line x1="36.5" y1="319.50" x2="39" y2="319.50" stroke="#8a8a8a" stroke-width="0.8"/>
<line x1="36.5" y1="316.50" x2="39" y2="316.50" stroke="#8a8a8a" stroke-width="0.8"/>
<line x1="36.5" y1="314.50" x2="39" y2="314.50" stroke="#8a8a8a" stroke-width="0.8"/>
<line x1="36.5" y1="311.50" x2="39" y2="311.50" stroke="#8a8a8a" stroke-width="0.8"/>
<line x1="36.5" y1="309.50" x2="39" y2="309.50" stroke="#8a8a8a" stroke-width="0.8"/>
<line x1="36.5" y1="306.50" x2="39" y2="306.50" stroke="#8a8a8a" stroke-width="0.8"/>
<line x1="36.5" y1="304.50" x2="39" y2="304.50" stroke="#8a8a8a" stroke-width="0.8"/>
<line x1="36.5" y1="301.50" x2="39" y2="301.50" stroke="#8a8a8a" stroke-width="0.8"/>
<line x1="36.5" y1="299.50" x2="39" y2="299.50" stroke="#8a8a8a" stroke-width="0.8"/>
<line x1="36.5" y1="296.50" x2="39" y2="296.50" stroke="#8a8a8a" stroke-width="0.8"/>
<line x1="36.5" y1="294.50" x2="39" y2="294.50" stroke="#8a8a8a" stroke-width="0.8"/>
<line x1="36.5" y1="291.50" x2="39" y2="291.50" stroke="#8a8a8a" stroke-width="0.8"/>
<line x1="36.5" y1="289.50" x2="39" y2="289.50" stroke="#8a8a8a" stroke-width="0.8"/>
<line x1="36.5" y1="286.50" x2="39" y2="286.50" stroke="#8a8a8a" stroke-width="0.8"/>
<line x1="36.5" y1="283.50" x2="39" y2="283.50" stroke="#8a8a8a" stroke-width="0.8"/>
<line x1="36.5" y1="281.50" x2="39" y2="281.50" stroke="#8a8a8a" stroke-width="0.8"/>
<line x1="36.5" y1="278.50" x2="39" y2="278.50" stroke="#8a8a8a" stroke-width="0.8"/>
<line x1="36.5" y1="276.50" x2="39" y2="276.50" stroke="#8a8a8a" stroke-width="0.8"/>
<line x1="36.5" y1="273.50" x2="39" y2="273.50" stroke="#8a8a8a" stroke-width="0.8"/>
<line x1="36.5" y1="271.50" x2="39" y2="271.50" stroke="#8a8a8a" stroke-width="0.8"/>
<line x1="36.5" y1="268.50" x2="39" y2="268.50" stroke="#8a8a8a" stroke-width="0.8"/>
<line x1="36.5" y1="266.50" x2="39" y2="266.50" stroke="#8a8a8a" stroke-width="0.8"/>
<line x1="36.5" y1="263.50" x2="39" y2="263.50" stroke="#8a8a8a" stroke-width="0.8"/>
<line x1="36.5" y1="261.50" x2="39" y2="261.50" stroke="#8a8a8a" stroke-width="0.8"/>
<line x1="36.5" y1="258.50" x2="39" y2="258.50" stroke="#8a8a8a" stroke-width="0.8"/>
<line x1="36.5" y1="256.50" x2="39" y2="256.50" stroke="#8a8a8a" stroke-width="0.8"/>
<line x1="36.5" y1="253.50" x2="39" y2="253.50" stroke="#8a8a8a" stroke-width="0.8"/>
<line x1="36.5" y1="251.50" x2="39" y2="251.50" stroke="#8a8a8a" stroke-width="0.8"/>
<line x1="36.5" y1="248.50" x2="39" y2="248.50" stroke="#8a8a8a" stroke-width="0.8"/>
<line x1="36.5" y1="256.32" x2="42" y2="256.32" stroke="#777" stroke-width="0.9"/>
<line x1="36.5" y1="268.90" x2="42" y2="268.90" stroke="#777" stroke-width="0.9"/>
<line x1="36.5" y1="281.48" x2="42" y2="281.48" stroke="#777" stroke-width="0.9"/>
<line x1="36.5" y1="294.06" x2="42" y2="294.06" stroke="#777" stroke-width="0.9"/>
<line x1="36.5" y1="306.64" x2="42" y2="306.64" stroke="#777" stroke-width="0.9"/>
<line x1="36.5" y1="319.22" x2="42" y2="319.22" stroke="#777" stroke-width="0.9"/>
<line x1="36.5" y1="331.80" x2="42" y2="331.80" stroke="#777" stroke-width="0.9"/>
<line x1="36.5" y1="344.38" x2="42" y2="344.38" stroke="#777" stroke-width="0.9"/>
<line x1="36.5" y1="356.96" x2="42" y2="356.96" stroke="#777" stroke-width="0.9"/>
<line x1="36.5" y1="369.54" x2="42" y2="369.54" stroke="#777" stroke-width="0.9"/>
<line x1="36.5" y1="382.12" x2="42" y2="382.12" stroke="#777" stroke-width="0.9"/>
<line x1="36.5" y1="394.70" x2="42" y2="394.70" stroke="#777" stroke-width="0.9"/>
<line x1="36.5" y1="249.00" x2="36.5" y2="407.50" stroke="#b0b0b0" stroke-width="1"/>
<line x1="36" y1="407.50" x2="473" y2="407.50" stroke="#999" stroke-width="1"/>
<line x1="472.5" y1="249.00" x2="472.5" y2="407.50" stroke="#c8c8c8" stroke-width="1"/>
<text x="33" y="273.20" font-family="Liberation Sans, sans-serif" font-weight="bold" font-size="10.5" text-anchor="end" stroke="#000" stroke-width="0.2">5</text>
<text x="33" y="298.36" font-family="Liberation Sans, sans-serif" font-weight="bold" font-size="10.5" text-anchor="end" stroke="#000" stroke-width="0.2">4</text>
<text x="33" y="323.52" font-family="Liberation Sans, sans-serif" font-weight="bold" font-size="10.5" text-anchor="end" stroke="#000" stroke-width="0.2">3</text>
<text x="33" y="348.68" font-family="Liberation Sans, sans-serif" font-weight="bold" font-size="10.5" text-anchor="end" stroke="#000" stroke-width="0.2">2</text>
<text x="33" y="373.84" font-family="Liberation Sans, sans-serif" font-weight="bold" font-size="10.5" text-anchor="end" stroke="#000" stroke-width="0.2">1</text>
<text x="33" y="399.00" font-family="Liberation Sans, sans-serif" font-weight="bold" font-size="10.5" text-anchor="end" stroke="#000" stroke-width="0.2">0</text>
<text x="36.30" y="420.5" font-family="Liberation Sans, sans-serif" font-weight="bold" font-size="10.5" text-anchor="middle" stroke="#000" stroke-width="0.2">23.7</text>
<text x="94.50" y="420.5" font-family="Liberation Sans, sans-serif" font-weight="bold" font-size="10.5" text-anchor="middle" stroke="#000" stroke-width="0.2">24.2</text>
<text x="153.50" y="420.5" font-family="Liberation Sans, sans-serif" font-weight="bold" font-size="10.5" text-anchor="middle" stroke="#000" stroke-width="0.2">24.7</text>
<text x="212.50" y="420.5" font-family="Liberation Sans, sans-serif" font-weight="bold" font-size="10.5" text-anchor="middle" stroke="#000" stroke-width="0.2">25.2</text>
<text x="271.50" y="420.5" font-family="Liberation Sans, sans-serif" font-weight="bold" font-size="10.5" text-anchor="middle" stroke="#000" stroke-width="0.2">25.7</text>
<text x="330.50" y="420.5" font-family="Liberation Sans, sans-serif" font-weight="bold" font-size="10.5" text-anchor="middle" stroke="#000" stroke-width="0.2">26.2</text>
<text x="389.50" y="420.5" font-family="Liberation Sans, sans-serif" font-weight="bold" font-size="10.5" text-anchor="middle" stroke="#000" stroke-width="0.2">26.7</text>
<text x="448.50" y="420.5" font-family="Liberation Sans, sans-serif" font-weight="bold" font-size="10.5" text-anchor="middle" stroke="#000" stroke-width="0.2">27.2</text>
<text x="253" y="435.5" font-family="Liberation Sans, sans-serif" font-weight="bold" font-size="12.7" text-anchor="middle" stroke="#000" stroke-width="0.25">Time (hour)</text>
<text transform="translate(14.8,328.7) rotate(-90)" font-family="Liberation Sans, sans-serif" font-weight="bold" font-size="12.7" text-anchor="middle" stroke="#000" stroke-width="0.25">Delta Cell Index</text>
<line x1="60.5" y1="251" x2="60.5" y2="407.3" stroke="#777" stroke-width="1"/>
<line x1="60.6" y1="229.5" x2="60.6" y2="245" stroke="#000" stroke-width="2.4"/>
<polygon points="56.7,243.6 64.5,243.6 60.6,251.6" fill="#000"/>
<line x1="37" y1="394.8" x2="43" y2="394.8" stroke="#c07070" stroke-width="1.3"/>
<line x1="43" y1="394.8" x2="60.4" y2="394.8" stroke="#8ccc8c" stroke-width="1.2"/>
<circle cx="49" cy="394.8" r="1.7" fill="#6ab87a"/><circle cx="60.4" cy="394.8" r="1.8" fill="#5aa86a"/>
<path d="M60.4,394.7 61.4,394.7 62.4,394.7 63.4,394.7 64.5,394.7 65.5,394.7 66.5,394.7 67.5,394.7 68.5,394.7 69.5,394.7 70.6,394.7 71.6,394.7 72.6,394.7 73.6,394.7 74.6,394.7 75.6,394.7 76.6,394.7 77.7,394.7 78.7,394.7 79.7,394.7 80.7,394.6 81.7,394.6 82.7,394.6 83.8,394.6 84.8,394.6 85.8,394.6 86.8,394.6 87.8,394.6 88.8,394.6 89.8,394.6 90.9,394.6 91.9,394.6 92.9,394.6 93.9,394.6 94.9,394.6 95.9,394.6 97.0,394.6 98.0,394.6 99.0,394.6 100.0,394.6 101.0,394.6 102.0,394.6 103.0,394.6 104.0,394.6 105.0,394.6 106.0,394.6 107.0,394.6 108.0,394.6 109.0,394.6 110.0,394.6 111.0,394.6 112.0,394.6 113.0,394.6 114.0,394.6 115.0,394.6 116.0,394.6 117.0,394.6 118.0,394.6 119.0,394.6 120.0,394.5 121.0,394.5 122.0,394.5 123.0,394.5 124.0,394.5 125.0,394.5 126.0,394.5 127.0,394.5 128.0,394.5 129.0,394.5 130.0,394.5 131.0,394.5 132.0,394.5 133.0,394.5 134.0,394.5 135.0,394.5 136.0,394.5 137.0,394.5 138.0,394.5 139.0,394.5 140.0,394.5 141.0,394.5 142.0,394.5 143.0,394.5 144.0,394.5 145.0,394.5 146.0,394.5 147.0,394.5 148.0,394.5 149.0,394.5 150.0,394.5 151.0,394.5 152.0,394.5 153.0,394.5 154.0,394.5 155.0,394.4 156.0,394.4 157.0,394.4 158.0,394.4 159.0,394.4 160.0,394.4 161.0,394.4 162.0,394.4 163.0,394.4 164.0,394.4 165.0,394.4 166.0,394.4 167.0,394.4 168.0,394.4 169.0,394.4 170.0,394.4 171.0,394.4 172.0,394.4 173.0,394.4 174.0,394.4 175.0,394.4 176.0,394.4 177.0,394.4 178.0,394.4 179.0,394.4 180.0,394.4 181.0,394.4 182.0,394.4 183.0,394.4 184.0,394.4 185.0,394.4 186.0,394.4 187.0,394.4 188.0,394.4 189.0,394.4 190.0,394.3 191.0,394.3 192.0,394.3 193.0,394.3 194.0,394.3 195.0,394.3 196.0,394.3 197.0,394.3 198.0,394.3 199.0,394.3 200.0,394.3 201.0,394.3 202.0,394.3 203.0,394.3 204.0,394.3 205.0,394.3 206.0,394.3 207.0,394.3 208.0,394.3 209.0,394.3 210.0,394.3 211.0,394.3 212.0,394.3 213.0,394.3 214.0,394.3 215.0,394.3 216.0,394.3 217.0,394.3 218.0,394.3 219.0,394.3 220.0,394.3 221.0,394.3 222.0,394.3 223.0,394.3 224.0,394.3 225.0,394.3 226.0,394.3 227.0,394.3 228.0,394.3 229.0,394.3 230.0,394.3 231.0,394.3 232.0,394.3 233.0,394.2 234.0,394.2 235.0,394.2 236.0,394.2 237.0,394.2 238.0,394.2 239.0,394.2 240.0,394.2 241.0,394.2 242.0,394.2 243.0,394.2 244.0,394.2 245.0,394.2 246.0,394.2 247.0,394.2 248.0,394.2 249.0,394.2 250.0,394.2 251.0,394.2 252.0,394.2 253.0,394.2 254.0,394.2 255.0,394.2 256.0,394.2 257.0,394.2 258.0,394.2 259.0,394.2 260.0,394.2 261.0,394.2 262.0,394.2 263.0,394.2 264.0,394.2 265.0,394.2 266.0,394.2 267.0,394.2 268.0,394.2 269.0,394.2 270.0,394.2 271.0,394.2 272.0,394.2 273.0,394.2 274.0,394.2 275.0,394.2 276.0,394.2 277.0,394.2 278.0,394.2 279.0,394.2 280.0,394.2 281.0,394.2 282.0,394.2 283.0,394.2 284.0,394.2 285.0,394.2 286.0,394.2 287.0,394.2 288.0,394.2 289.0,394.2 290.0,394.2 291.0,394.2 292.0,394.2 293.0,394.2 294.0,394.2 295.0,394.2 296.0,394.2 297.0,394.2 298.0,394.2 299.0,394.2 300.0,394.2 301.0,394.2 302.0,394.2 303.0,394.2 304.0,394.2 305.0,394.2 306.0,394.2 307.0,394.2 308.0,394.2 309.0,394.2 310.0,394.2 311.0,394.2 312.0,394.2 313.0,394.2 314.0,394.2 315.0,394.2 316.0,394.2 317.0,394.2 318.0,394.2 319.0,394.2 320.0,394.2 321.0,394.2 322.0,394.2 323.0,394.2 324.0,394.2 325.0,394.2 326.0,394.2 327.0,394.2 328.0,394.2 329.0,394.2 330.0,394.2 331.0,394.2 332.0,394.2 333.0,394.2 334.0,394.2 335.0,394.2 336.0,394.2 337.0,394.2 338.0,394.2 339.0,394.2 340.0,394.2 341.0,394.2 342.0,394.3 343.0,394.3 344.0,394.3 345.0,394.3 346.0,394.3 347.0,394.3 348.0,394.3 349.0,394.3 350.0,394.3 351.0,394.3 352.0,394.3 353.0,394.3 354.0,394.3 355.0,394.3 356.0,394.3 357.0,394.3 358.0,394.3 359.0,394.3 360.0,394.3 361.0,394.3 362.0,394.3 363.0,394.3 364.0,394.3 365.0,394.3 366.0,394.3 367.0,394.3 368.0,394.3 369.0,394.3 370.0,394.3 371.0,394.3 372.0,394.3 373.0,394.3 374.0,394.3 375.0,394.3 376.0,394.3 377.0,394.3 378.0,394.3 379.0,394.3 380.0,394.3 381.0,394.3 382.0,394.3 383.0,394.3 384.0,394.3 385.0,394.3 386.0,394.3 387.0,394.3 388.0,394.3 389.0,394.3 390.0,394.3 391.0,394.3 392.0,394.3 393.0,394.3 394.0,394.3 395.0,394.3 396.0,394.4 397.0,394.4 398.0,394.4 399.0,394.4 400.0,394.4 401.0,394.4 402.0,394.4 403.0,394.4 404.0,394.4 405.0,394.4 406.0,394.4 407.0,394.4 408.0,394.4 409.0,394.4 410.0,394.4 411.0,394.4 412.0,394.4 413.0,394.4 414.0,394.4 415.0,394.4 416.0,394.4 417.0,394.4 418.0,394.4 419.0,394.4 420.0,394.4 421.0,394.4 422.0,394.4 423.0,394.4 424.0,394.4 425.0,394.4 426.0,394.4 427.0,394.4 428.0,394.4 429.0,394.4 430.0,394.4 431.0,394.4 432.0,394.4 433.0,394.4 434.0,394.4 435.0,394.4 436.0,394.4 437.0,394.4 438.0,394.4 439.0,394.4 440.0,394.4 441.0,394.4 442.0,394.4 443.0,394.4 444.0,394.5 445.0,394.5 446.0,394.5 447.0,394.5 448.0,394.5 449.0,394.5 450.0,394.5 451.0,394.5 452.0,394.5 453.0,394.5 454.0,394.5 455.0,394.5 456.0,394.5 457.0,394.5 458.0,394.5 459.0,394.5 460.0,394.5 461.0,394.5 462.0,394.5 463.0,394.5 464.0,394.5 465.0,394.5 466.0,394.5 467.0,394.5 468.0,394.5 469.0,394.5 470.0,394.5 471.0,394.5 472.0,394.5" fill="none" stroke="#8ccc8c" stroke-width="2.0" stroke-linejoin="round"/>
<path d="M60.4,394.7 61.5,394.4 62.6,394.0 63.8,393.7 64.9,393.5 66.0,393.3 67.0,393.2 68.0,393.1 69.0,393.1 70.0,393.0 71.0,392.9 72.0,392.9 73.0,392.8 74.0,392.8 75.0,392.7 76.0,392.7 77.0,392.6 78.0,392.6 79.0,392.5 80.0,392.5 81.0,392.5 82.0,392.4 83.0,392.4 84.0,392.4 85.0,392.3 86.0,392.3 87.0,392.3 88.0,392.2 89.0,392.2 90.0,392.2 91.0,392.2 92.0,392.1 93.0,392.1 94.0,392.1 95.0,392.1 96.0,392.1 97.0,392.1 98.0,392.0 99.0,392.0 100.0,392.0 101.0,392.0 102.0,392.0 103.0,391.9 104.0,391.9 105.0,391.9 106.0,391.9 107.0,391.9 108.0,391.9 109.0,391.8 110.0,391.8 111.0,391.8 112.0,391.8 113.0,391.8 114.0,391.8 115.0,391.7 116.0,391.7 117.0,391.7 118.0,391.7 119.0,391.7 120.0,391.7 121.0,391.7 122.0,391.6 123.0,391.6 124.0,391.6 125.0,391.6 126.0,391.6 127.0,391.6 128.0,391.5 129.0,391.5 130.0,391.5 131.0,391.5 132.0,391.5 133.0,391.5 134.0,391.5 135.0,391.4 136.0,391.4 137.0,391.4 138.0,391.4 139.0,391.4 140.0,391.4 141.0,391.4 142.0,391.3 143.0,391.3 144.0,391.3 145.0,391.3 146.0,391.3 147.0,391.3 148.0,391.3 149.0,391.2 150.0,391.2 151.0,391.2 152.0,391.2 153.0,391.2 154.0,391.2 155.0,391.2 156.0,391.1 157.0,391.1 158.0,391.1 159.0,391.1 160.0,391.1 161.0,391.1 162.0,391.1 163.0,391.1 164.0,391.0 165.0,391.0 166.0,391.0 167.0,391.0 168.0,391.0 169.0,391.0 170.0,391.0 171.0,391.0 172.0,391.0 173.0,390.9 174.0,390.9 175.0,390.9 176.0,390.9 177.0,390.9 178.0,390.9 179.0,390.9 180.0,390.9 181.0,390.9 182.0,390.8 183.0,390.8 184.0,390.8 185.0,390.8 186.0,390.8 187.0,390.8 188.0,390.8 189.0,390.8 190.0,390.8 191.0,390.8 192.0,390.7 193.0,390.7 194.0,390.7 195.0,390.7 196.0,390.7 197.0,390.7 198.0,390.7 199.0,390.7 200.0,390.7 201.0,390.7 202.0,390.7 203.0,390.6 204.0,390.6 205.0,390.6 206.0,390.6 207.0,390.6 208.0,390.6 209.0,390.6 210.0,390.6 211.0,390.6 212.0,390.6 213.0,390.6 214.0,390.6 215.0,390.5 216.0,390.5 217.0,390.5 218.0,390.5 219.0,390.5 220.0,390.5 221.0,390.5 222.0,390.5 223.0,390.5 224.0,390.5 225.0,390.5 226.0,390.5 227.0,390.5 228.0,390.5 229.0,390.5 230.0,390.5 231.0,390.4 232.0,390.4 233.0,390.4 234.0,390.4 235.0,390.4 236.0,390.4 237.0,390.4 238.0,390.4 239.0,390.4 240.0,390.4 241.0,390.4 242.0,390.4 243.0,390.4 244.0,390.4 245.0,390.4 246.0,390.4 247.0,390.4 248.0,390.4 249.0,390.4 250.0,390.4 251.0,390.4 252.0,390.4 253.0,390.3 254.0,390.3 255.0,390.3 256.0,390.3 257.0,390.3 258.0,390.3 259.0,390.3 260.0,390.3 261.0,390.3 262.0,390.3 263.0,390.3 264.0,390.3 265.0,390.3 266.0,390.3 267.0,390.3 268.0,390.3 269.0,390.3 270.0,390.3 271.0,390.3 272.0,390.3 273.0,390.3 274.0,390.3 275.0,390.3 276.0,390.3 277.0,390.3 278.0,390.3 279.0,390.3 280.0,390.3 281.0,390.3 282.0,390.3 283.0,390.3 284.0,390.3 285.0,390.3 286.0,390.3 287.0,390.3 288.0,390.3 289.0,390.3 290.0,390.3 291.0,390.3 292.0,390.3 293.0,390.3 294.0,390.3 295.0,390.3 296.0,390.3 297.0,390.3 298.0,390.3 299.0,390.3 300.0,390.3 301.0,390.3 302.0,390.3 303.0,390.3 304.0,390.3 305.0,390.3 306.0,390.3 307.0,390.3 308.0,390.3 309.0,390.3 310.0,390.4 311.0,390.4 312.0,390.4 313.0,390.4 314.0,390.4 315.0,390.4 316.0,390.4 317.0,390.4 318.0,390.4 319.0,390.4 320.0,390.4 321.0,390.4 322.0,390.4 323.0,390.4 324.0,390.4 325.0,390.4 326.0,390.4 327.0,390.4 328.0,390.4 329.0,390.4 330.0,390.4 331.0,390.5 332.0,390.5 333.0,390.5 334.0,390.5 335.0,390.5 336.0,390.5 337.0,390.5 338.0,390.5 339.0,390.5 340.0,390.5 341.0,390.5 342.0,390.5 343.0,390.5 344.0,390.5 345.0,390.5 346.0,390.5 347.0,390.6 348.0,390.6 349.0,390.6 350.0,390.6 351.0,390.6 352.0,390.6 353.0,390.6 354.0,390.6 355.0,390.6 356.0,390.6 357.0,390.6 358.0,390.6 359.0,390.6 360.0,390.6 361.0,390.7 362.0,390.7 363.0,390.7 364.0,390.7 365.0,390.7 366.0,390.7 367.0,390.7 368.0,390.7 369.0,390.7 370.0,390.7 371.0,390.7 372.0,390.7 373.0,390.8 374.0,390.8 375.0,390.8 376.0,390.8 377.0,390.8 378.0,390.8 379.0,390.8 380.0,390.8 381.0,390.8 382.0,390.8 383.0,390.8 384.0,390.8 385.0,390.9 386.0,390.9 387.0,390.9 388.0,390.9 389.0,390.9 390.0,390.9 391.0,390.9 392.0,390.9 393.0,390.9 394.0,390.9 395.0,390.9 396.0,391.0 397.0,391.0 398.0,391.0 399.0,391.0 400.0,391.0 401.0,391.0 402.0,391.0 403.0,391.0 404.0,391.0 405.0,391.0 406.0,391.0 407.0,391.1 408.0,391.1 409.0,391.1 410.0,391.1 411.0,391.1 412.0,391.1 413.0,391.1 414.0,391.1 415.0,391.1 416.0,391.1 417.0,391.1 418.0,391.2 419.0,391.2 420.0,391.2 421.0,391.2 422.0,391.2 423.0,391.2 424.0,391.2 425.0,391.2 426.0,391.2 427.0,391.2 428.0,391.2 429.0,391.3 430.0,391.3 431.0,391.3 432.0,391.3 433.0,391.3 434.0,391.3 435.0,391.3 436.0,391.3 437.0,391.3 438.0,391.3 439.0,391.3 440.0,391.4 441.0,391.4 442.0,391.4 443.0,391.4 444.0,391.4 445.0,391.4 446.0,391.4 447.0,391.4 448.0,391.4 449.0,391.4 450.0,391.4 451.0,391.4 452.0,391.5 453.0,391.5 454.0,391.5 455.0,391.5 456.0,391.5 457.0,391.5 458.0,391.5 459.0,391.5 460.0,391.5 461.0,391.5 462.0,391.5 463.0,391.5 464.0,391.5 465.0,391.6 466.0,391.6 467.0,391.6 468.0,391.6 469.0,391.6 470.0,391.6 471.0,391.6 472.0,391.6" fill="none" stroke="#cfa498" stroke-width="1.0" stroke-linejoin="round"/>
<path d="M60.4,394.7 61.5,394.6 62.6,394.6 63.7,394.5 64.7,394.4 65.8,394.4 66.9,394.3 68.0,394.2 69.0,394.1 70.1,394.0 71.1,393.9 72.2,393.8 73.2,393.6 74.2,393.5 75.3,393.4 76.3,393.2 77.4,393.1 78.4,393.0 79.5,392.9 80.5,392.8 81.5,392.7 82.5,392.6 83.6,392.5 84.6,392.5 85.6,392.4 86.6,392.3 87.6,392.2 88.6,392.1 89.7,392.1 90.7,392.0 91.7,391.9 92.7,391.8 93.7,391.8 94.7,391.7 95.8,391.6 96.8,391.6 97.8,391.5 98.8,391.4 99.8,391.4 100.8,391.3 101.9,391.2 102.9,391.2 103.9,391.1 104.9,391.1 105.9,391.0 106.9,391.0 108.0,390.9 109.0,390.9 110.0,390.8 111.0,390.8 112.0,390.7 113.0,390.7 114.0,390.6 115.0,390.6 116.0,390.5 117.0,390.5 118.0,390.4 119.0,390.4 120.0,390.3 121.0,390.3 122.0,390.2 123.0,390.2 124.0,390.1 125.0,390.1 126.0,390.0 127.0,390.0 128.0,390.0 129.0,389.9 130.0,389.9 131.0,389.8 132.0,389.8 133.0,389.7 134.0,389.7 135.0,389.7 136.0,389.6 137.0,389.6 138.0,389.5 139.0,389.5 140.0,389.4 141.0,389.4 142.0,389.4 143.0,389.3 144.0,389.3 145.0,389.2 146.0,389.2 147.0,389.2 148.0,389.1 149.0,389.1 150.0,389.1 151.0,389.0 152.0,389.0 153.0,389.0 154.0,388.9 155.0,388.9 156.0,388.9 157.0,388.8 158.0,388.8 159.0,388.8 160.0,388.7 161.0,388.7 162.0,388.7 163.0,388.6 164.0,388.6 165.0,388.6 166.0,388.5 167.0,388.5 168.0,388.5 169.0,388.5 170.0,388.4 171.0,388.4 172.0,388.4 173.0,388.4 174.0,388.3 175.0,388.3 176.0,388.3 177.0,388.3 178.0,388.2 179.0,388.2 180.0,388.2 181.0,388.2 182.0,388.2 183.0,388.1 184.0,388.1 185.0,388.1 186.0,388.1 187.0,388.1 188.0,388.0 189.0,388.0 190.0,388.0 191.0,388.0 192.0,388.0 193.0,388.0 194.0,387.9 195.0,387.9 196.0,387.9 197.0,387.9 198.0,387.9 199.0,387.9 200.0,387.8 201.0,387.8 202.1,387.8 203.1,387.8 204.1,387.8 205.1,387.8 206.1,387.7 207.1,387.7 208.1,387.7 209.1,387.7 210.1,387.7 211.1,387.7 212.1,387.6 213.1,387.6 214.1,387.6 215.1,387.6 216.1,387.6 217.1,387.6 218.1,387.6 219.1,387.5 220.1,387.5 221.1,387.5 222.1,387.5 223.1,387.5 224.1,387.5 225.1,387.4 226.1,387.4 227.1,387.4 228.1,387.4 229.1,387.4 230.1,387.4 231.1,387.4 232.1,387.4 233.1,387.3 234.2,387.3 235.2,387.3 236.2,387.3 237.2,387.3 238.2,387.3 239.2,387.3 240.2,387.3 241.2,387.2 242.2,387.2 243.2,387.2 244.2,387.2 245.2,387.2 246.2,387.2 247.2,387.2 248.2,387.2 249.2,387.2 250.2,387.2 251.2,387.1 252.2,387.1 253.2,387.1 254.2,387.1 255.2,387.1 256.2,387.1 257.2,387.1 258.2,387.1 259.2,387.1 260.2,387.1 261.2,387.1 262.2,387.1 263.2,387.1 264.2,387.1 265.2,387.0 266.3,387.0 267.3,387.0 268.3,387.0 269.3,387.0 270.3,387.0 271.3,387.0 272.3,387.0 273.3,387.0 274.3,387.0 275.3,387.0 276.3,387.0 277.3,387.0 278.3,387.0 279.3,387.0 280.3,387.0 281.3,387.0 282.3,387.0 283.3,387.0 284.3,387.0 285.3,387.0 286.3,387.0 287.3,387.0 288.3,387.0 289.3,387.0 290.3,387.0 291.3,387.0 292.3,387.0 293.3,387.0 294.3,387.0 295.3,387.0 296.4,387.0 297.4,387.0 298.4,387.0 299.4,387.0 300.4,387.0 301.4,387.0 302.4,387.0 303.4,387.0 304.4,387.0 305.4,387.0 306.4,387.0 307.4,387.0 308.4,387.0 309.4,387.0 310.4,387.0 311.4,387.0 312.4,387.0 313.4,387.0 314.4,387.0 315.4,387.0 316.4,387.0 317.4,387.0 318.4,387.0 319.4,387.0 320.4,387.0 321.4,387.0 322.4,387.0 323.5,387.0 324.5,387.0 325.5,387.0 326.5,387.0 327.5,387.0 328.5,387.0 329.5,387.0 330.5,387.0 331.5,387.0 332.5,387.0 333.5,387.0 334.5,387.0 335.5,387.0 336.5,387.0 337.5,387.0 338.5,387.0 339.5,387.0 340.5,387.0 341.5,387.0 342.5,387.1 343.5,387.1 344.5,387.1 345.5,387.1 346.5,387.1 347.5,387.1 348.5,387.1 349.5,387.1 350.6,387.1 351.6,387.1 352.6,387.1 353.6,387.1 354.6,387.1 355.6,387.1 356.6,387.1 357.6,387.1 358.6,387.1 359.6,387.1 360.6,387.1 361.6,387.1 362.6,387.1 363.6,387.1 364.6,387.1 365.6,387.1 366.6,387.1 367.6,387.1 368.6,387.1 369.6,387.1 370.6,387.1 371.6,387.1 372.6,387.1 373.6,387.1 374.6,387.1 375.6,387.1 376.6,387.1 377.7,387.1 378.7,387.1 379.7,387.1 380.7,387.1 381.7,387.1 382.7,387.1 383.7,387.1 384.7,387.1 385.7,387.1 386.7,387.1 387.7,387.1 388.7,387.1 389.7,387.1 390.7,387.1 391.7,387.1 392.7,387.1 393.7,387.1 394.7,387.1 395.7,387.2 396.7,387.2 397.7,387.2 398.7,387.2 399.7,387.2 400.7,387.2 401.7,387.2 402.7,387.2 403.7,387.2 404.8,387.2 405.8,387.2 406.8,387.2 407.8,387.2 408.8,387.2 409.8,387.2 410.8,387.2 411.8,387.2 412.8,387.2 413.8,387.2 414.8,387.2 415.8,387.2 416.8,387.2 417.8,387.2 418.8,387.2 419.8,387.2 420.8,387.2 421.8,387.2 422.8,387.2 423.8,387.2 424.8,387.2 425.8,387.2 426.8,387.2 427.8,387.2 428.8,387.2 429.8,387.2 430.8,387.2 431.9,387.2 432.9,387.2 433.9,387.2 434.9,387.2 435.9,387.2 436.9,387.2 437.9,387.2 438.9,387.2 439.9,387.2 440.9,387.2 441.9,387.2 442.9,387.2 443.9,387.2 444.9,387.3 445.9,387.3 446.9,387.3 447.9,387.3 448.9,387.3 449.9,387.3 450.9,387.3 451.9,387.3 452.9,387.3 453.9,387.3 454.9,387.3 455.9,387.3 456.9,387.3 457.9,387.3 459.0,387.3 460.0,387.3 461.0,387.3 462.0,387.3 463.0,387.3 464.0,387.3 465.0,387.3 466.0,387.3 467.0,387.3 468.0,387.3 469.0,387.3 470.0,387.3 471.0,387.3 472.0,387.3" fill="none" stroke="#7452b0" stroke-width="0.7" stroke-linejoin="round"/>
<path d="M60.4 394.7h0M62.4 394.6h0M64.4 394.5h0M66.4 394.3h0M68.4 394.2h0M70.4 394.0h0M72.4 393.7h0M74.4 393.5h0M76.4 393.2h0M78.4 393.0h0M80.4 392.8h0M82.4 392.6h0M84.4 392.5h0M86.4 392.3h0M88.4 392.2h0M90.4 392.0h0M92.4 391.9h0M94.4 391.7h0M96.4 391.6h0M98.4 391.5h0M100.4 391.3h0M102.4 391.2h0M104.4 391.1h0M106.4 391.0h0M108.4 390.9h0M110.4 390.8h0M112.4 390.7h0M114.4 390.6h0M116.4 390.5h0M118.4 390.4h0M120.4 390.3h0M122.4 390.2h0M124.4 390.1h0M126.4 390.0h0M128.4 389.9h0M130.4 389.8h0M132.4 389.8h0M134.4 389.7h0M136.4 389.6h0M138.4 389.5h0M140.4 389.4h0M142.4 389.3h0M144.4 389.3h0M146.4 389.2h0M148.4 389.1h0M150.4 389.0h0M152.4 389.0h0M154.4 388.9h0M156.4 388.8h0M158.4 388.8h0M160.4 388.7h0M162.4 388.6h0M164.4 388.6h0M166.4 388.5h0M168.4 388.5h0M170.4 388.4h0M172.4 388.4h0M174.4 388.3h0M176.4 388.3h0M178.4 388.2h0M180.4 388.2h0M182.4 388.1h0M184.4 388.1h0M186.4 388.1h0M188.4 388.0h0M190.4 388.0h0M192.4 388.0h0M194.4 387.9h0M196.4 387.9h0M198.4 387.9h0M200.4 387.8h0M202.4 387.8h0M204.4 387.8h0M206.4 387.7h0M208.4 387.7h0M210.4 387.7h0M212.4 387.6h0M214.4 387.6h0M216.4 387.6h0M218.4 387.5h0M220.4 387.5h0M222.4 387.5h0M224.4 387.5h0M226.4 387.4h0M228.4 387.4h0M230.4 387.4h0M232.4 387.4h0M234.4 387.3h0M236.4 387.3h0M238.4 387.3h0M240.4 387.3h0M242.4 387.2h0M244.4 387.2h0M246.4 387.2h0M248.4 387.2h0M250.4 387.2h0M252.4 387.1h0M254.4 387.1h0M256.4 387.1h0M258.4 387.1h0M260.4 387.1h0M262.4 387.1h0M264.4 387.1h0M266.4 387.0h0M268.4 387.0h0M270.4 387.0h0M272.4 387.0h0M274.4 387.0h0M276.4 387.0h0M278.4 387.0h0M280.4 387.0h0M282.4 387.0h0M284.4 387.0h0M286.4 387.0h0M288.4 387.0h0M290.4 387.0h0M292.4 387.0h0M294.4 387.0h0M296.4 387.0h0M298.4 387.0h0M300.4 387.0h0M302.4 387.0h0M304.4 387.0h0M306.4 387.0h0M308.4 387.0h0M310.4 387.0h0M312.4 387.0h0M314.4 387.0h0M316.4 387.0h0M318.4 387.0h0M320.4 387.0h0M322.4 387.0h0M324.4 387.0h0M326.4 387.0h0M328.4 387.0h0M330.4 387.0h0M332.4 387.0h0M334.4 387.0h0M336.4 387.0h0M338.4 387.0h0M340.4 387.0h0M342.4 387.1h0M344.4 387.1h0M346.4 387.1h0M348.4 387.1h0M350.4 387.1h0M352.4 387.1h0M354.4 387.1h0M356.4 387.1h0M358.4 387.1h0M360.4 387.1h0M362.4 387.1h0M364.4 387.1h0M366.4 387.1h0M368.4 387.1h0M370.4 387.1h0M372.4 387.1h0M374.4 387.1h0M376.4 387.1h0M378.4 387.1h0M380.4 387.1h0M382.4 387.1h0M384.4 387.1h0M386.4 387.1h0M388.4 387.1h0M390.4 387.1h0M392.4 387.1h0M394.4 387.1h0M396.4 387.2h0M398.4 387.2h0M400.4 387.2h0M402.4 387.2h0M404.4 387.2h0M406.4 387.2h0M408.4 387.2h0M410.4 387.2h0M412.4 387.2h0M414.4 387.2h0M416.4 387.2h0M418.4 387.2h0M420.4 387.2h0M422.4 387.2h0M424.4 387.2h0M426.4 387.2h0M428.4 387.2h0M430.4 387.2h0M432.4 387.2h0M434.4 387.2h0M436.4 387.2h0M438.4 387.2h0M440.4 387.2h0M442.4 387.2h0M444.4 387.3h0M446.4 387.3h0M448.4 387.3h0M450.4 387.3h0M452.4 387.3h0M454.4 387.3h0M456.4 387.3h0M458.4 387.3h0M460.4 387.3h0M462.4 387.3h0M464.4 387.3h0M466.4 387.3h0M468.4 387.3h0M470.4 387.3h0" fill="none" stroke="#7452b0" stroke-width="2.0" stroke-linecap="round"/>
<path d="M60.4,394.7 61.5,394.6 62.6,394.4 63.8,394.3 64.9,394.2 66.0,394.0 67.1,393.8 68.2,393.5 69.3,393.1 70.4,392.8 71.5,392.4 72.6,392.0 73.7,391.7 74.7,391.4 75.8,391.1 76.8,390.9 77.9,390.6 78.9,390.3 80.0,390.0 81.0,389.8 82.1,389.5 83.1,389.3 84.2,389.0 85.2,388.8 86.3,388.5 87.3,388.3 88.4,388.1 89.4,387.8 90.5,387.6 91.5,387.4 92.6,387.2 93.6,386.9 94.7,386.7 95.7,386.5 96.8,386.3 97.8,386.1 98.9,385.9 99.9,385.7 101.0,385.5 102.0,385.3 103.0,385.1 104.0,384.9 105.0,384.8 106.0,384.6 107.0,384.4 108.0,384.2 109.0,384.1 110.0,383.9 111.0,383.7 112.0,383.5 113.1,383.4 114.1,383.2 115.1,383.0 116.1,382.8 117.1,382.6 118.1,382.4 119.2,382.2 120.2,382.0 121.2,381.8 122.2,381.6 123.2,381.4 124.3,381.2 125.3,381.1 126.3,380.9 127.3,380.7 128.3,380.5 129.4,380.4 130.4,380.2 131.4,380.0 132.4,379.9 133.4,379.7 134.4,379.6 135.5,379.4 136.5,379.3 137.5,379.2 138.5,379.1 139.5,379.0 140.5,378.9 141.5,378.8 142.6,378.7 143.6,378.6 144.6,378.5 145.6,378.4 146.6,378.3 147.6,378.2 148.6,378.1 149.6,378.0 150.6,377.9 151.6,377.8 152.7,377.7 153.7,377.6 154.7,377.5 155.7,377.4 156.7,377.4 157.7,377.3 158.7,377.2 159.7,377.1 160.7,377.0 161.8,377.0 162.8,376.9 163.8,376.8 164.8,376.7 165.8,376.7 166.8,376.6 167.8,376.5 168.8,376.5 169.8,376.4 170.9,376.3 171.9,376.2 172.9,376.2 173.9,376.1 174.9,376.0 175.9,376.0 176.9,375.9 177.9,375.9 178.9,375.8 179.9,375.7 181.0,375.7 182.0,375.6 183.0,375.5 184.0,375.5 185.0,375.4 186.0,375.3 187.0,375.3 188.1,375.2 189.1,375.2 190.1,375.1 191.1,375.0 192.1,375.0 193.1,374.9 194.2,374.9 195.2,374.8 196.2,374.8 197.2,374.7 198.2,374.6 199.2,374.6 200.2,374.5 201.3,374.5 202.3,374.4 203.3,374.4 204.3,374.4 205.3,374.3 206.3,374.3 207.3,374.2 208.4,374.2 209.4,374.1 210.4,374.1 211.4,374.0 212.4,374.0 213.4,373.9 214.4,373.9 215.4,373.8 216.4,373.8 217.5,373.7 218.5,373.7 219.5,373.7 220.5,373.6 221.5,373.6 222.5,373.5 223.5,373.5 224.5,373.4 225.5,373.4 226.6,373.4 227.6,373.3 228.6,373.3 229.6,373.2 230.6,373.2 231.6,373.2 232.6,373.1 233.6,373.1 234.6,373.0 235.6,373.0 236.7,373.0 237.7,372.9 238.7,372.9 239.7,372.9 240.7,372.8 241.7,372.8 242.7,372.8 243.7,372.8 244.7,372.7 245.8,372.7 246.8,372.7 247.8,372.6 248.8,372.6 249.8,372.6 250.8,372.6 251.8,372.6 252.8,372.5 253.9,372.5 254.9,372.5 255.9,372.5 256.9,372.5 257.9,372.4 258.9,372.4 260.0,372.4 261.0,372.4 262.0,372.4 263.0,372.4 264.0,372.4 265.0,372.3 266.1,372.3 267.1,372.3 268.1,372.3 269.1,372.3 270.1,372.3 271.1,372.3 272.1,372.2 273.2,372.2 274.2,372.2 275.2,372.2 276.2,372.2 277.2,372.2 278.2,372.2 279.3,372.1 280.3,372.1 281.3,372.1 282.3,372.1" fill="none" stroke="#94d6e2" stroke-width="0.6" stroke-linejoin="round"/>
<path d="M60.4 394.7h0M62.4 394.5h0M64.4 394.2h0M66.4 393.9h0M68.4 393.4h0M70.4 392.8h0M72.4 392.1h0M74.4 391.5h0M76.4 391.0h0M78.4 390.4h0M80.4 389.9h0M82.4 389.4h0M84.4 389.0h0M86.4 388.5h0M88.4 388.1h0M90.4 387.6h0M92.4 387.2h0M94.4 386.8h0M96.4 386.4h0M98.4 386.0h0M100.4 385.6h0M102.4 385.2h0M104.4 384.9h0M106.4 384.5h0M108.4 384.2h0M110.4 383.8h0M112.4 383.5h0M114.4 383.1h0M116.4 382.7h0M118.4 382.3h0M120.4 382.0h0M122.4 381.6h0M124.4 381.2h0M126.4 380.9h0M128.4 380.5h0M130.4 380.2h0M132.4 379.9h0M134.4 379.6h0M136.4 379.3h0M138.4 379.1h0M140.4 378.9h0M142.4 378.7h0M144.4 378.5h0M146.4 378.3h0M148.4 378.1h0M150.4 377.9h0M152.4 377.7h0M154.4 377.6h0M156.4 377.4h0M158.4 377.2h0M160.4 377.1h0M162.4 376.9h0M164.4 376.8h0M166.4 376.6h0M168.4 376.5h0M170.4 376.3h0M172.4 376.2h0M174.4 376.1h0M176.4 375.9h0M178.4 375.8h0M180.4 375.7h0M182.4 375.6h0M184.4 375.4h0M186.4 375.3h0M188.4 375.2h0M190.4 375.1h0M192.4 375.0h0M194.4 374.8h0M196.4 374.7h0M198.4 374.6h0M200.4 374.5h0M202.4 374.4h0M204.4 374.3h0M206.4 374.3h0M208.4 374.2h0M210.4 374.1h0M212.4 374.0h0M214.4 373.9h0M216.4 373.8h0M218.4 373.7h0M220.4 373.6h0M222.4 373.5h0M224.4 373.4h0M226.4 373.4h0M228.4 373.3h0M230.4 373.2h0M232.4 373.1h0M234.4 373.1h0M236.4 373.0h0M238.4 372.9h0M240.4 372.8h0M242.4 372.8h0M244.4 372.7h0M246.4 372.7h0M248.4 372.6h0M250.4 372.6h0M252.4 372.5h0M254.4 372.5h0M256.4 372.5h0M258.4 372.4h0M260.4 372.4h0M262.4 372.4h0M264.4 372.3h0M266.4 372.3h0M268.4 372.3h0M270.4 372.3h0M272.4 372.2h0M274.4 372.2h0M276.4 372.2h0M278.4 372.2h0M280.4 372.1h0" fill="none" stroke="#94d6e2" stroke-width="1.6" stroke-linecap="round"/>
<path d="M60.4,394.7 61.2,394.5 62.0,394.3 63.0,393.7 64.0,393.0 65.0,392.1 66.0,391.2 67.1,390.3 68.2,389.6 69.2,389.0 70.2,388.4 71.3,387.9 72.3,387.4 73.3,386.9 74.4,386.4 75.4,386.0 76.4,385.5 77.4,385.0 78.5,384.6 79.5,384.2 80.5,383.7 81.5,383.3 82.5,382.9 83.6,382.5 84.6,382.1 85.7,381.7 86.8,381.3 87.9,380.9 89.0,380.5 90.0,380.1 91.1,379.7 92.2,379.2 93.3,378.8 94.4,378.4 95.5,378.0 96.5,377.6 97.6,377.1 98.6,376.7 99.6,376.2 100.7,375.8 101.7,375.3 102.8,374.8 103.8,374.4 104.8,373.9 105.9,373.5 106.9,373.0 107.9,372.6 109.0,372.3 110.0,371.9 111.1,371.6 112.1,371.2 113.2,370.9 114.2,370.6 115.3,370.4 116.3,370.1 117.4,369.8 118.4,369.5 119.5,369.3 120.5,369.0 121.6,368.7 122.6,368.5 123.7,368.2 124.8,367.9 125.8,367.6 126.9,367.3 127.9,367.1 129.0,366.8 130.1,366.5 131.1,366.2 132.2,365.9 133.3,365.6 134.3,365.4 135.4,365.1 136.4,364.8 137.5,364.6 138.5,364.4 139.5,364.1 140.6,363.9 141.6,363.7 142.6,363.4 143.6,363.2 144.6,363.0 145.6,362.8 146.7,362.6 147.7,362.3 148.7,362.1 149.7,361.9 150.7,361.7 151.8,361.5 152.8,361.3 153.8,361.1 154.8,360.9 155.8,360.7 156.9,360.5 157.9,360.3 158.9,360.1 159.9,360.0 160.9,359.8 161.9,359.6 163.0,359.4 164.0,359.3 165.0,359.1 166.0,358.9 167.0,358.8 168.0,358.6 169.0,358.5 170.0,358.4 171.0,358.2 172.0,358.1 173.0,357.9 174.0,357.8 175.0,357.7 176.0,357.6 177.0,357.4 178.0,357.3 179.0,357.2 180.0,357.0 181.0,356.9 182.0,356.8 183.0,356.7 184.0,356.5 185.0,356.4 186.0,356.3 187.0,356.1 188.1,356.0 189.1,355.8 190.1,355.7 191.1,355.5 192.1,355.4 193.1,355.2 194.2,355.1 195.2,354.9 196.2,354.8 197.2,354.7 198.2,354.5 199.2,354.4 200.2,354.3 201.3,354.2 202.3,354.1 203.3,354.0 204.3,353.9 205.3,353.8 206.3,353.8 207.3,353.7 208.3,353.6 209.4,353.5 210.4,353.5 211.4,353.4 212.4,353.4 213.4,353.3 214.4,353.2 215.4,353.2 216.4,353.1 217.4,353.1 218.4,353.0 219.4,353.0 220.4,352.9 221.5,352.9 222.5,352.8 223.5,352.8 224.5,352.7 225.5,352.7 226.5,352.6 227.5,352.5 228.5,352.5 229.5,352.5 230.6,352.4 231.6,352.4 232.6,352.3 233.6,352.3 234.6,352.2 235.6,352.2 236.6,352.1 237.6,352.1 238.7,352.1 239.7,352.0 240.7,352.0 241.7,351.9 242.7,351.9 243.7,351.9 244.7,351.8 245.7,351.8 246.8,351.7 247.8,351.7 248.8,351.6 249.8,351.6 250.8,351.6 251.8,351.5 252.8,351.5 253.9,351.4 254.9,351.4 255.9,351.3 256.9,351.3 257.9,351.2 258.9,351.2 260.0,351.1 261.0,351.1 262.0,351.0 263.0,351.0 264.0,350.9 265.0,350.9 266.1,350.8 267.1,350.8 268.1,350.7 269.1,350.7 270.1,350.6 271.1,350.6 272.1,350.5 273.2,350.5 274.2,350.4 275.2,350.4 276.2,350.3 277.2,350.3 278.2,350.2 279.3,350.2 280.3,350.1 281.3,350.1 282.3,350.0" fill="none" stroke="#c048b0" stroke-width="0.8" stroke-linejoin="round"/>
<path d="M60.4 394.7h0M62.4 394.1h0M64.4 392.7h0M66.4 390.9h0M68.4 389.5h0M70.4 388.3h0M72.4 387.3h0M74.4 386.4h0M76.4 385.5h0M78.4 384.6h0M80.4 383.8h0M82.4 383.0h0M84.4 382.2h0M86.4 381.4h0M88.4 380.7h0M90.4 379.9h0M92.4 379.2h0M94.4 378.4h0M96.4 377.6h0M98.4 376.8h0M100.4 375.9h0M102.4 375.0h0M104.4 374.1h0M106.4 373.2h0M108.4 372.5h0M110.4 371.8h0M112.4 371.2h0M114.4 370.6h0M116.4 370.1h0M118.4 369.5h0M120.4 369.0h0M122.4 368.5h0M124.4 368.0h0M126.4 367.5h0M128.4 366.9h0M130.4 366.4h0M132.4 365.9h0M134.4 365.3h0M136.4 364.9h0M138.4 364.4h0M140.4 363.9h0M142.4 363.5h0M144.4 363.1h0M146.4 362.6h0M148.4 362.2h0M150.4 361.8h0M152.4 361.4h0M154.4 361.0h0M156.4 360.6h0M158.4 360.2h0M160.4 359.9h0M162.4 359.5h0M164.4 359.2h0M166.4 358.9h0M168.4 358.6h0M170.4 358.3h0M172.4 358.0h0M174.4 357.8h0M176.4 357.5h0M178.4 357.2h0M180.4 357.0h0M182.4 356.7h0M184.4 356.5h0M186.4 356.2h0M188.4 355.9h0M190.4 355.6h0M192.4 355.3h0M194.4 355.1h0M196.4 354.8h0M198.4 354.5h0M200.4 354.3h0M202.4 354.1h0M204.4 353.9h0M206.4 353.8h0M208.4 353.6h0M210.4 353.5h0M212.4 353.3h0M214.4 353.2h0M216.4 353.1h0M218.4 353.0h0M220.4 352.9h0M222.4 352.8h0M224.4 352.7h0M226.4 352.6h0M228.4 352.5h0M230.4 352.4h0M232.4 352.3h0M234.4 352.2h0M236.4 352.2h0M238.4 352.1h0M240.4 352.0h0M242.4 351.9h0M244.4 351.8h0M246.4 351.7h0M248.4 351.7h0M250.4 351.6h0M252.4 351.5h0M254.4 351.4h0M256.4 351.3h0M258.4 351.2h0M260.4 351.1h0M262.4 351.0h0M264.4 350.9h0M266.4 350.8h0M268.4 350.7h0M270.4 350.6h0M272.4 350.5h0M274.4 350.4h0M276.4 350.3h0M278.4 350.2h0M280.4 350.1h0" fill="none" stroke="#c048b0" stroke-width="2.0" stroke-linecap="round"/>
<path d="M60.4,394.7 61.2,394.4 62.0,394.0 63.0,393.5 64.0,393.0 64.8,392.4 65.5,391.7 66.5,390.4 67.5,388.9 68.6,387.2 69.6,385.5 70.7,383.7 71.9,381.8 73.0,380.0 74.1,378.2 75.3,376.4 76.4,374.6 77.4,372.9 78.5,371.2 79.5,369.5 80.5,367.8 81.6,365.9 82.8,364.1 83.9,362.3 85.2,360.4 86.5,358.7 87.5,357.4 88.5,356.2 89.7,354.9 90.9,353.7 92.0,352.6 93.0,351.6 94.0,350.6 95.0,349.7 96.0,348.8 97.0,347.9 98.0,347.0 99.0,346.2 100.0,345.4 101.1,344.5 102.1,343.7 103.2,342.8 104.2,341.9 105.3,341.1 106.3,340.2 107.4,339.4 108.4,338.6 109.5,337.8 110.6,337.0 111.6,336.3 112.7,335.5 113.7,334.8 114.8,334.0 115.8,333.3 116.9,332.6 117.9,332.0 119.0,331.3 120.1,330.7 121.1,330.0 122.2,329.4 123.2,328.8 124.3,328.3 125.3,327.7 126.4,327.2 127.4,326.6 128.5,326.1 129.6,325.6 130.6,325.1 131.7,324.6 132.7,324.1 133.8,323.7 134.8,323.2 135.9,322.8 136.9,322.4 138.0,322.0 139.1,321.6 140.1,321.3 141.2,320.9 142.3,320.6 143.3,320.2 144.4,319.9 145.5,319.6 146.5,319.3 147.6,319.0 148.6,318.7 149.7,318.4 150.7,318.2 151.8,317.9 152.8,317.6 153.9,317.4 154.9,317.1 156.0,316.9 157.0,316.7 158.1,316.5 159.1,316.3 160.2,316.1 161.3,316.0 162.3,315.8 163.4,315.6 164.5,315.5 165.5,315.3 166.6,315.2 167.7,315.1 168.7,314.9 169.8,314.8 170.8,314.7 171.9,314.5 172.9,314.4 174.0,314.3 175.0,314.2 176.1,314.1 177.2,314.0 178.2,313.9 179.3,313.8 180.4,313.7 181.4,313.7 182.5,313.6 183.6,313.5 184.7,313.4 185.7,313.4 186.8,313.3 187.9,313.2 188.9,313.2 190.0,313.1 191.0,313.0 192.0,313.0 193.1,312.9 194.1,312.9 195.1,312.8 196.1,312.7 197.2,312.7 198.2,312.6 199.2,312.6 200.2,312.6 201.3,312.5 202.3,312.5 203.3,312.5 204.3,312.5 205.3,312.5 206.3,312.5 207.3,312.5 208.3,312.5 209.4,312.5 210.4,312.5 211.4,312.5 212.4,312.5 213.4,312.5 214.4,312.6 215.4,312.6 216.4,312.6 217.4,312.6 218.4,312.6 219.4,312.6 220.4,312.6 221.5,312.6 222.5,312.6 223.5,312.7 224.5,312.7 225.5,312.7 226.5,312.7 227.5,312.7 228.5,312.7 229.5,312.8 230.6,312.8 231.6,312.8 232.6,312.9 233.6,312.9 234.6,313.0 235.6,313.1 236.6,313.1 237.6,313.2 238.7,313.2 239.7,313.3 240.7,313.4 241.7,313.4 242.7,313.5 243.7,313.6 244.7,313.7 245.7,313.7 246.8,313.8 247.8,313.9 248.8,313.9 249.8,314.0 250.8,314.1 251.8,314.1 252.8,314.2 253.8,314.3 254.8,314.4 255.9,314.4 256.9,314.5 257.9,314.6 258.9,314.7 259.9,314.7 260.9,314.8 261.9,314.9 262.9,315.0 263.9,315.1 264.9,315.2 265.9,315.2 266.9,315.3 268.0,315.4 269.0,315.5 270.0,315.6 271.0,315.6 272.0,315.7 273.0,315.8 274.0,315.9 275.1,316.0 276.1,316.0 277.1,316.1 278.2,316.2 279.2,316.3 280.2,316.3 281.3,316.4 282.3,316.5" fill="none" stroke="#34409e" stroke-width="0.9" stroke-linejoin="round"/>
<path d="M60.4 394.7h0M62.4 393.8h0M64.4 392.7h0M66.4 390.6h0M68.4 387.5h0M70.4 384.2h0M72.4 381.0h0M74.4 377.8h0M76.4 374.6h0M78.4 371.3h0M80.4 368.0h0M82.4 364.7h0M84.4 361.6h0M86.4 358.8h0M88.4 356.3h0M90.4 354.2h0M92.4 352.2h0M94.4 350.3h0M96.4 348.4h0M98.4 346.7h0M100.4 345.1h0M102.4 343.4h0M104.4 341.8h0M106.4 340.2h0M108.4 338.6h0M110.4 337.1h0M112.4 335.7h0M114.4 334.3h0M116.4 332.9h0M118.4 331.7h0M120.4 330.5h0M122.4 329.3h0M124.4 328.2h0M126.4 327.1h0M128.4 326.1h0M130.4 325.2h0M132.4 324.3h0M134.4 323.4h0M136.4 322.6h0M138.4 321.9h0M140.4 321.2h0M142.4 320.5h0M144.4 319.9h0M146.4 319.3h0M148.4 318.8h0M150.4 318.2h0M152.4 317.7h0M154.4 317.2h0M156.4 316.8h0M158.4 316.4h0M160.4 316.1h0M162.4 315.8h0M164.4 315.5h0M166.4 315.2h0M168.4 315.0h0M170.4 314.7h0M172.4 314.5h0M174.4 314.3h0M176.4 314.1h0M178.4 313.9h0M180.4 313.7h0M182.4 313.6h0M184.4 313.4h0M186.4 313.3h0M188.4 313.2h0M190.4 313.1h0M192.4 313.0h0M194.4 312.8h0M196.4 312.7h0M198.4 312.6h0M200.4 312.5h0M202.4 312.5h0M204.4 312.5h0M206.4 312.5h0M208.4 312.5h0M210.4 312.5h0M212.4 312.5h0M214.4 312.6h0M216.4 312.6h0M218.4 312.6h0M220.4 312.6h0M222.4 312.6h0M224.4 312.7h0M226.4 312.7h0M228.4 312.7h0M230.4 312.8h0M232.4 312.9h0M234.4 313.0h0M236.4 313.1h0M238.4 313.2h0M240.4 313.4h0M242.4 313.5h0M244.4 313.6h0M246.4 313.8h0M248.4 313.9h0M250.4 314.0h0M252.4 314.2h0M254.4 314.3h0M256.4 314.5h0M258.4 314.6h0M260.4 314.8h0M262.4 314.9h0M264.4 315.1h0M266.4 315.3h0M268.4 315.4h0M270.4 315.6h0M272.4 315.8h0M274.4 315.9h0M276.4 316.1h0M278.4 316.2h0M280.4 316.4h0" fill="none" stroke="#34409e" stroke-width="2.4" stroke-linecap="round"/>
<path d="M60.4,394.7 61.2,394.5 62.0,394.2 63.0,393.4 64.0,392.3 65.0,390.8 66.0,389.0 67.0,386.9 68.0,384.6 69.0,382.0 70.0,379.0 71.0,375.7 72.0,372.1 73.0,368.5 74.0,364.8 75.0,361.1 76.0,357.3 77.0,353.6 78.0,350.1 79.0,346.7 80.0,343.3 81.0,340.0 82.0,336.7 83.0,333.5 84.0,330.5 85.4,326.7 86.8,323.3 87.8,320.9 88.8,318.5 89.9,316.3 90.9,314.2 91.9,312.2 93.0,310.4 94.0,308.6 95.0,306.9 96.0,305.3 97.0,303.8 98.1,302.3 99.1,300.9 100.4,299.1 101.7,297.3 103.0,295.6 104.2,294.1 105.3,292.6 106.5,291.3 107.5,290.2 108.6,289.2 109.7,288.3 110.7,287.4 111.8,286.5 112.8,285.7 113.9,284.9 114.9,284.2 116.0,283.5 117.0,282.8 118.0,282.2 119.1,281.6 120.2,281.0 121.2,280.5 122.3,280.0 123.4,279.5 124.5,279.0 125.5,278.6 126.5,278.2 127.6,277.8 128.7,277.5 129.7,277.2 130.8,276.9 131.8,276.6 132.9,276.3 133.9,276.0 135.0,275.7 136.1,275.5 137.2,275.3 138.2,275.1 139.2,274.9 140.3,274.8 141.4,274.7 142.5,274.6 143.7,274.5 144.8,274.4 145.9,274.3 147.0,274.2 148.0,274.1 149.1,274.1 150.1,274.0 151.2,273.9 152.2,273.8 153.3,273.8 154.3,273.7 155.4,273.6 156.4,273.6 157.5,273.6 158.5,273.5 159.6,273.5 160.6,273.5 161.6,273.5 162.6,273.5 163.6,273.5 164.6,273.6 165.6,273.6 166.6,273.6 167.6,273.7 168.6,273.7 169.6,273.8 170.6,273.8 171.6,273.9 172.6,273.9 173.6,274.0 174.7,274.1 175.7,274.2 176.7,274.2 177.7,274.3 178.7,274.4 179.7,274.5 180.7,274.6 181.7,274.7 182.7,274.7 183.7,274.8 184.7,274.9 185.7,275.0 186.7,275.1 187.7,275.2 188.7,275.3 189.7,275.4 190.8,275.5 191.8,275.6 192.8,275.8 193.8,275.9 194.9,276.1 195.9,276.2 196.9,276.4 197.9,276.5 199.0,276.7 200.0,276.9 201.0,277.1 202.0,277.3 203.1,277.5 204.1,277.6 205.1,277.8 206.1,278.0 207.2,278.2 208.2,278.4 209.2,278.6 210.2,278.8 211.3,279.1 212.3,279.3 213.3,279.5 214.3,279.7 215.4,279.9 216.4,280.1 217.4,280.3 218.4,280.4 219.5,280.6 220.5,280.8 221.5,281.0 222.5,281.2 223.5,281.4 224.6,281.5 225.6,281.7 226.6,281.9 227.6,282.1 228.7,282.2 229.7,282.4 230.7,282.6 231.7,282.7 232.8,282.9 233.8,283.1 234.8,283.3 235.8,283.4 236.9,283.6 237.9,283.8 238.9,284.0 239.9,284.1 241.0,284.3 242.0,284.5 243.0,284.7 244.0,284.9 245.1,285.0 246.1,285.2 247.1,285.4 248.1,285.6 249.2,285.8 250.2,286.0 251.2,286.2 252.2,286.4 253.3,286.6 254.3,286.8 255.3,287.0 256.3,287.2 257.4,287.4 258.4,287.7 259.4,287.9 260.4,288.1 261.5,288.4 262.5,288.6 263.5,288.8 264.5,289.1 265.6,289.3 266.6,289.6 267.6,289.8 268.6,290.1 269.7,290.3 270.7,290.6 271.7,290.9 272.8,291.1 273.8,291.4 274.8,291.6 275.8,291.9 276.9,292.1 277.9,292.4 278.9,292.7 279.9,292.9 281.0,293.2 282.0,293.4" fill="none" stroke="#7dc13a" stroke-width="0.7" stroke-linejoin="round"/>
<path d="M60.4 394.7h0M62.4 394.0h0M64.4 391.8h0M66.4 388.2h0M68.4 383.6h0M70.4 377.7h0M72.4 370.6h0M74.4 363.3h0M76.4 355.8h0M78.4 348.7h0M80.4 342.0h0M82.4 335.4h0M84.4 329.4h0M86.4 324.3h0M88.4 319.6h0M90.4 315.2h0M92.4 311.4h0M94.4 307.9h0M96.4 304.7h0M98.4 301.9h0M100.4 299.1h0M102.4 296.4h0M104.4 293.8h0M106.4 291.4h0M108.4 289.4h0M110.4 287.7h0M112.4 286.0h0M114.4 284.5h0M116.4 283.2h0M118.4 282.0h0M120.4 280.9h0M122.4 280.0h0M124.4 279.1h0M126.4 278.2h0M128.4 277.5h0M130.4 277.0h0M132.4 276.4h0M134.4 275.9h0M136.4 275.4h0M138.4 275.1h0M140.4 274.8h0M142.4 274.6h0M144.4 274.4h0M146.4 274.2h0M148.4 274.1h0M150.4 274.0h0M152.4 273.8h0M154.4 273.7h0M156.4 273.6h0M158.4 273.5h0M160.4 273.5h0M162.4 273.5h0M164.4 273.5h0M166.4 273.6h0M168.4 273.7h0M170.4 273.8h0M172.4 273.9h0M174.4 274.1h0M176.4 274.2h0M178.4 274.4h0M180.4 274.5h0M182.4 274.7h0M184.4 274.9h0M186.4 275.1h0M188.4 275.3h0M190.4 275.5h0M192.4 275.7h0M194.4 276.0h0M196.4 276.3h0M198.4 276.6h0M200.4 277.0h0M202.4 277.3h0M204.4 277.7h0M206.4 278.1h0M208.4 278.5h0M210.4 278.9h0M212.4 279.3h0M214.4 279.7h0M216.4 280.1h0M218.4 280.4h0M220.4 280.8h0M222.4 281.2h0M224.4 281.5h0M226.4 281.8h0M228.4 282.2h0M230.4 282.5h0M232.4 282.9h0M234.4 283.2h0M236.4 283.5h0M238.4 283.9h0M240.4 284.2h0M242.4 284.6h0M244.4 284.9h0M246.4 285.3h0M248.4 285.7h0M250.4 286.0h0M252.4 286.4h0M254.4 286.8h0M256.4 287.2h0M258.4 287.7h0M260.4 288.1h0M262.4 288.6h0M264.4 289.0h0M266.4 289.5h0M268.4 290.0h0M270.4 290.5h0M272.4 291.0h0M274.4 291.5h0M276.4 292.0h0M278.4 292.5h0M280.4 293.0h0" fill="none" stroke="#7dc13a" stroke-width="1.8" stroke-linecap="round"/>
<path d="M60.4,394.7 61.2,394.4 62.0,394.0 63.0,393.0 64.0,391.5 65.0,389.7 66.0,387.5 67.0,384.7 68.1,381.5 69.4,376.8 70.7,371.6 72.0,366.5 73.2,362.0 74.5,357.6 75.7,353.1 76.9,348.5 78.1,343.5 79.4,338.3 80.6,333.5 81.6,329.9 82.6,326.5 83.6,323.3 84.6,320.3 85.6,317.4 86.7,314.7 87.7,312.2 88.7,309.8 89.7,307.6 90.8,305.5 91.8,303.5 92.8,301.6 93.8,299.8 94.8,298.1 95.9,296.5 96.9,295.0 98.0,293.6 99.0,292.2 100.1,290.9 101.1,289.7 102.2,288.5 103.3,287.4 104.3,286.3 105.4,285.3 106.5,284.4 107.5,283.6 108.6,282.9 109.7,282.2 110.7,281.6 111.8,281.0 112.8,280.5 113.8,280.0 114.9,279.5 116.0,279.0 117.0,278.6 118.0,278.2 119.1,277.8 120.2,277.5 121.2,277.2 122.3,276.9 123.3,276.6 124.4,276.3 125.5,276.1 126.5,275.9 127.6,275.7 128.7,275.5 129.7,275.4 130.8,275.2 131.8,275.1 132.9,275.0 134.0,274.9 135.0,274.8 136.1,274.7 137.2,274.6 138.3,274.5 139.4,274.4 140.6,274.4 141.7,274.3 142.8,274.2 143.9,274.2 145.0,274.2 146.0,274.2 147.0,274.2 148.0,274.2 149.0,274.2 150.0,274.3 151.0,274.3 152.0,274.3 153.0,274.4 154.0,274.4 155.0,274.5 156.0,274.6 157.0,274.7 158.0,274.9 159.0,275.0 160.0,275.2 161.0,275.3 162.1,275.5 163.1,275.6 164.1,275.8 165.1,275.9 166.2,276.1 167.2,276.3 168.2,276.4 169.2,276.6 170.3,276.7 171.3,276.9 172.3,277.0 173.3,277.2 174.4,277.4 175.4,277.5 176.4,277.7 177.4,277.9 178.5,278.0 179.5,278.2 180.5,278.4 181.5,278.5 182.6,278.7 183.6,278.9 184.6,279.1 185.6,279.2 186.7,279.4 187.7,279.6 188.7,279.8 189.7,280.0 190.8,280.2 191.8,280.4 192.8,280.6 193.8,280.8 194.9,281.0 195.9,281.2 196.9,281.4 197.9,281.6 199.0,281.8 200.0,282.1 201.0,282.3 202.0,282.5 203.1,282.7 204.1,282.9 205.1,283.2 206.1,283.4 207.2,283.6 208.2,283.8 209.2,284.0 210.2,284.3 211.3,284.5 212.3,284.7 213.3,284.9 214.3,285.1 215.4,285.3 216.4,285.5 217.4,285.7 218.4,285.9 219.5,286.1 220.5,286.2 221.5,286.4 222.5,286.6 223.5,286.7 224.6,286.9 225.6,287.1 226.6,287.2 227.6,287.4 228.7,287.5 229.7,287.7 230.7,287.8 231.7,288.0 232.8,288.1 233.8,288.2 234.8,288.4 235.8,288.5 236.9,288.7 237.9,288.8 238.9,288.9 239.9,289.1 241.0,289.2 242.0,289.3 243.0,289.5 244.0,289.6 245.1,289.7 246.1,289.9 247.1,290.0 248.1,290.1 249.2,290.3 250.2,290.4 251.2,290.5 252.2,290.7 253.3,290.8 254.3,291.0 255.3,291.1 256.3,291.2 257.4,291.4 258.4,291.5 259.4,291.7 260.4,291.8 261.5,292.0 262.5,292.1 263.5,292.2 264.5,292.4 265.6,292.5 266.6,292.7 267.6,292.8 268.6,293.0 269.7,293.1 270.7,293.2 271.7,293.4 272.8,293.5 273.8,293.7 274.8,293.8 275.8,293.9 276.9,294.1 277.9,294.2 278.9,294.4 279.9,294.5 281.0,294.7 282.0,294.8" fill="none" stroke="#d83a2e" stroke-width="0.7" stroke-linejoin="round"/>
<path d="M60.4 394.7h0M62.4 393.7h0M64.4 390.8h0M66.4 386.5h0M68.4 380.5h0M70.4 372.8h0M72.4 365.0h0M74.4 357.7h0M76.4 350.4h0M78.4 342.4h0M80.4 334.2h0M82.4 327.2h0M84.4 320.9h0M86.4 315.4h0M88.4 310.5h0M90.4 306.2h0M92.4 302.3h0M94.4 298.8h0M96.4 295.7h0M98.4 293.0h0M100.4 290.5h0M102.4 288.3h0M104.4 286.2h0M106.4 284.5h0M108.4 283.0h0M110.4 281.8h0M112.4 280.7h0M114.4 279.7h0M116.4 278.8h0M118.4 278.0h0M120.4 277.4h0M122.4 276.8h0M124.4 276.3h0M126.4 275.9h0M128.4 275.6h0M130.4 275.3h0M132.4 275.0h0M134.4 274.8h0M136.4 274.7h0M138.4 274.5h0M140.4 274.4h0M142.4 274.3h0M144.4 274.2h0M146.4 274.2h0M148.4 274.2h0M150.4 274.3h0M152.4 274.3h0M154.4 274.4h0M156.4 274.6h0M158.4 274.9h0M160.4 275.3h0M162.4 275.5h0M164.4 275.8h0M166.4 276.1h0M168.4 276.4h0M170.4 276.7h0M172.4 277.1h0M174.4 277.4h0M176.4 277.7h0M178.4 278.0h0M180.4 278.3h0M182.4 278.7h0M184.4 279.0h0M186.4 279.4h0M188.4 279.7h0M190.4 280.1h0M192.4 280.5h0M194.4 280.9h0M196.4 281.3h0M198.4 281.7h0M200.4 282.1h0M202.4 282.6h0M204.4 283.0h0M206.4 283.4h0M208.4 283.9h0M210.4 284.3h0M212.4 284.7h0M214.4 285.1h0M216.4 285.5h0M218.4 285.9h0M220.4 286.2h0M222.4 286.5h0M224.4 286.9h0M226.4 287.2h0M228.4 287.5h0M230.4 287.8h0M232.4 288.0h0M234.4 288.3h0M236.4 288.6h0M238.4 288.9h0M240.4 289.1h0M242.4 289.4h0M244.4 289.6h0M246.4 289.9h0M248.4 290.2h0M250.4 290.4h0M252.4 290.7h0M254.4 291.0h0M256.4 291.3h0M258.4 291.5h0M260.4 291.8h0M262.4 292.1h0M264.4 292.4h0M266.4 292.6h0M268.4 292.9h0M270.4 293.2h0M272.4 293.5h0M274.4 293.7h0M276.4 294.0h0M278.4 294.3h0M280.4 294.6h0" fill="none" stroke="#d83a2e" stroke-width="1.8" stroke-linecap="round"/>
<path d="M453.0,375.5 454.0,375.5 455.0,375.5 456.0,375.5 457.0,375.5 458.0,375.6 459.0,375.6 460.0,375.6 461.0,375.6 462.0,375.6 463.0,375.6 464.0,375.6 465.0,375.6 466.0,375.6 467.0,375.6 468.0,375.7 469.0,375.7 470.0,375.7 471.0,375.7 472.0,375.7" fill="none" stroke="#94d6e2" stroke-width="0.6" stroke-linejoin="round"/>
<path d="M454.4 375.5h0M456.4 375.5h0M458.4 375.6h0M460.4 375.6h0M462.4 375.6h0M464.4 375.6h0M466.4 375.6h0M468.4 375.7h0M470.4 375.7h0" fill="none" stroke="#94d6e2" stroke-width="1.6" stroke-linecap="round"/>
<path d="M453.0,357.3 454.0,357.3 455.0,357.3 456.0,357.4 457.0,357.4 458.0,357.4 459.0,357.4 460.0,357.4 461.0,357.5 462.0,357.5 463.0,357.5 464.0,357.5 465.0,357.6 466.0,357.6 467.0,357.6 468.0,357.6 469.0,357.6 470.0,357.7 471.0,357.7 472.0,357.7" fill="none" stroke="#c048b0" stroke-width="0.8" stroke-linejoin="round"/>
<path d="M454.4 357.3h0M456.4 357.4h0M458.4 357.4h0M460.4 357.5h0M462.4 357.5h0M464.4 357.5h0M466.4 357.6h0M468.4 357.6h0M470.4 357.7h0" fill="none" stroke="#c048b0" stroke-width="2.0" stroke-linecap="round"/>
<path d="M453.0,335.3 454.0,335.4 455.0,335.5 456.0,335.5 457.0,335.6 458.0,335.7 459.0,335.8 460.0,335.9 461.0,335.9 462.0,336.0 463.0,336.1 464.0,336.2 465.0,336.2 466.0,336.3 467.0,336.4 468.0,336.5 469.0,336.6 470.0,336.6 471.0,336.7 472.0,336.8" fill="none" stroke="#34409e" stroke-width="0.9" stroke-linejoin="round"/>
<path d="M454.4 335.4h0M456.4 335.6h0M458.4 335.7h0M460.4 335.9h0M462.4 336.0h0M464.4 336.2h0M466.4 336.4h0M468.4 336.5h0M470.4 336.7h0" fill="none" stroke="#34409e" stroke-width="2.4" stroke-linecap="round"/>
<path d="M453.0,318.6 454.0,318.6 455.0,318.6 456.0,318.6 457.0,318.6 458.0,318.6 459.0,318.6 460.0,318.6 461.0,318.6 462.0,318.6 463.0,318.6 464.0,318.6 465.0,318.6 466.0,318.6 467.0,318.6 468.0,318.6 469.0,318.6 470.0,318.6 471.0,318.6 472.0,318.6" fill="none" stroke="#d83a2e" stroke-width="0.7" stroke-linejoin="round"/>
<path d="M454.4 318.6h0M456.4 318.6h0M458.4 318.6h0M460.4 318.6h0M462.4 318.6h0M464.4 318.6h0M466.4 318.6h0M468.4 318.6h0M470.4 318.6h0" fill="none" stroke="#d83a2e" stroke-width="1.8" stroke-linecap="round"/>
<path d="M453.0,317.8 454.0,317.8 455.0,317.8 456.0,317.9 457.0,317.9 458.0,317.9 459.0,317.9 460.0,317.9 461.0,318.0 462.0,318.0 463.0,318.0 464.0,318.0 465.0,318.1 466.0,318.1 467.0,318.1 468.0,318.1 469.0,318.1 470.0,318.2 471.0,318.2 472.0,318.2" fill="none" stroke="#7dc13a" stroke-width="0.7" stroke-linejoin="round"/>
<path d="M454.4 317.8h0M456.4 317.9h0M458.4 317.9h0M460.4 318.0h0M462.4 318.0h0M464.4 318.0h0M466.4 318.1h0M468.4 318.1h0M470.4 318.2h0" fill="none" stroke="#7dc13a" stroke-width="1.8" stroke-linecap="round"/>
<text x="80.70" y="276.60" font-family="Liberation Sans, sans-serif" font-weight="bold" font-size="8.2" fill="#c42820" stroke="#c42820" stroke-width="0.3" letter-spacing="-0.12">1350 pM</text>
<text x="116.20" y="294.60" font-family="Liberation Sans, sans-serif" font-weight="bold" font-size="8.2" fill="#62b41e" stroke="#62b41e" stroke-width="0.3" letter-spacing="-0.12">450 pM</text>
<text x="163.60" y="308.40" font-family="Liberation Sans, sans-serif" font-weight="bold" font-size="8.2" fill="#24247e" stroke="#24247e" stroke-width="0.3" letter-spacing="-0.12">150 pM</text>
<text x="177.00" y="350.30" font-family="Liberation Sans, sans-serif" font-weight="bold" font-size="8.2" fill="#ae3696" stroke="#ae3696" stroke-width="0.3" letter-spacing="-0.12">50 pM</text>
<text x="180.50" y="369.80" font-family="Liberation Sans, sans-serif" font-weight="bold" font-size="8.2" fill="#3e9cc0" stroke="#3e9cc0" stroke-width="0.3" letter-spacing="-0.12">16.7 pM</text>
<text x="214.60" y="384.20" font-family="Liberation Sans, sans-serif" font-weight="bold" font-size="8.2" fill="#5e249a" stroke="#5e249a" stroke-width="0.3" letter-spacing="-0.12">5.6 pM</text>
<text x="241.00" y="403.20" font-family="Liberation Sans, sans-serif" font-weight="bold" font-size="8.2" fill="#a0683c" stroke="#a0683c" stroke-width="0.3" letter-spacing="-0.12">1.8 pM</text>
<text x="280.70" y="403.60" font-family="Liberation Sans, sans-serif" font-weight="bold" font-size="8.2" fill="#2a8a34" stroke="#2a8a34" stroke-width="0.3" letter-spacing="-0.12">0.6 pM</text>
<text x="190.9" y="263.9" font-family="Liberation Sans, sans-serif" font-weight="bold" font-size="10.2" stroke="#000" stroke-width="0.2">NRG1 stimulation</text>
<rect x="282.60" y="257.60" width="170.50" height="121.00" fill="#fff" stroke="#000" stroke-width="1.6"/>
<line x1="305.20" y1="356.70" x2="305.20" y2="266.70" stroke="#444" stroke-width="0.8"/>
<line x1="305.20" y1="356.70" x2="447.70" y2="356.70" stroke="#444" stroke-width="0.8"/>
<line x1="303.20" y1="356.70" x2="305.20" y2="356.70" stroke="#444" stroke-width="0.8"/>
<text x="303.60" y="359.10" font-family="Liberation Sans, sans-serif" font-size="6.6" text-anchor="end" stroke="#000" stroke-width="0.2">0</text>
<line x1="303.20" y1="326.70" x2="305.20" y2="326.70" stroke="#444" stroke-width="0.8"/>
<text x="303.60" y="329.10" font-family="Liberation Sans, sans-serif" font-size="6.6" text-anchor="end" stroke="#000" stroke-width="0.2">2</text>
<line x1="303.20" y1="296.70" x2="305.20" y2="296.70" stroke="#444" stroke-width="0.8"/>
<text x="303.60" y="299.10" font-family="Liberation Sans, sans-serif" font-size="6.6" text-anchor="end" stroke="#000" stroke-width="0.2">4</text>
<line x1="303.20" y1="266.70" x2="305.20" y2="266.70" stroke="#444" stroke-width="0.8"/>
<text x="303.60" y="269.10" font-family="Liberation Sans, sans-serif" font-size="6.6" text-anchor="end" stroke="#000" stroke-width="0.2">6</text>
<line x1="305.20" y1="356.70" x2="305.20" y2="358.70" stroke="#444" stroke-width="0.8"/>
<text x="305.20" y="364.70" font-family="Liberation Sans, sans-serif" font-size="6.6" text-anchor="middle" stroke="#000" stroke-width="0.2">-1</text>
<line x1="333.70" y1="356.70" x2="333.70" y2="358.70" stroke="#444" stroke-width="0.8"/>
<text x="333.70" y="364.70" font-family="Liberation Sans, sans-serif" font-size="6.6" text-anchor="middle" stroke="#000" stroke-width="0.2">0</text>
<line x1="362.20" y1="356.70" x2="362.20" y2="358.70" stroke="#444" stroke-width="0.8"/>
<text x="362.20" y="364.70" font-family="Liberation Sans, sans-serif" font-size="6.6" text-anchor="middle" stroke="#000" stroke-width="0.2">1</text>
<line x1="390.70" y1="356.70" x2="390.70" y2="358.70" stroke="#444" stroke-width="0.8"/>
<text x="390.70" y="364.70" font-family="Liberation Sans, sans-serif" font-size="6.6" text-anchor="middle" stroke="#000" stroke-width="0.2">2</text>
<line x1="419.20" y1="356.70" x2="419.20" y2="358.70" stroke="#444" stroke-width="0.8"/>
<text x="419.20" y="364.70" font-family="Liberation Sans, sans-serif" font-size="6.6" text-anchor="middle" stroke="#000" stroke-width="0.2">3</text>
<line x1="447.70" y1="356.70" x2="447.70" y2="358.70" stroke="#444" stroke-width="0.8"/>
<text x="447.70" y="364.70" font-family="Liberation Sans, sans-serif" font-size="6.6" text-anchor="middle" stroke="#000" stroke-width="0.2">4</text>
<polyline points="327.37,354.73 328.97,354.73 330.56,354.73 332.15,354.72 333.74,354.71 335.33,354.70 336.93,354.69 338.52,354.68 340.11,354.67 341.70,354.65 343.29,354.62 344.89,354.59 346.48,354.56 348.07,354.51 349.66,354.46 351.26,354.39 352.85,354.31 354.44,354.21 356.03,354.09 357.62,353.94 359.22,353.76 360.81,353.54 362.40,353.27 363.99,352.94 365.59,352.54 367.18,352.05 368.77,351.47 370.36,350.76 371.95,349.91 373.55,348.89 375.14,347.69 376.73,346.27 378.32,344.61 379.92,342.69 381.51,340.49 383.10,338.01 384.69,335.24 386.28,332.21 387.88,328.94 389.47,325.49 391.06,321.92 392.65,318.30 394.25,314.70 395.84,311.20 397.43,307.87 399.02,304.75 400.61,301.89 402.21,299.31 403.80,297.02 405.39,295.00 406.98,293.26 408.58,291.76 410.17,290.49 411.76,289.41 413.35,288.51 414.94,287.76 416.54,287.13 418.13,286.61 419.72,286.19 421.31,285.83 422.90,285.54" fill="none" stroke="#000" stroke-width="0.8"/>
<circle cx="327.37" cy="355.95" r="1.6" fill="#000"/>
<circle cx="340.97" cy="355.20" r="1.6" fill="#000"/>
<circle cx="355.02" cy="353.25" r="1.6" fill="#000"/>
<circle cx="368.56" cy="347.25" r="1.6" fill="#000"/>
<line x1="382.12" y1="336.45" x2="382.12" y2="340.05" stroke="#000" stroke-width="0.7"/>
<line x1="380.62" y1="336.45" x2="383.62" y2="336.45" stroke="#000" stroke-width="0.7"/>
<line x1="380.62" y1="340.05" x2="383.62" y2="340.05" stroke="#000" stroke-width="0.7"/>
<circle cx="382.12" cy="338.25" r="1.6" fill="#000"/>
<line x1="395.72" y1="309.15" x2="395.72" y2="318.15" stroke="#000" stroke-width="0.7"/>
<line x1="394.22" y1="309.15" x2="397.22" y2="309.15" stroke="#000" stroke-width="0.7"/>
<line x1="394.22" y1="318.15" x2="397.22" y2="318.15" stroke="#000" stroke-width="0.7"/>
<circle cx="395.72" cy="313.65" r="1.6" fill="#000"/>
<line x1="409.31" y1="281.40" x2="409.31" y2="291.90" stroke="#000" stroke-width="0.7"/>
<line x1="407.81" y1="281.40" x2="410.81" y2="281.40" stroke="#000" stroke-width="0.7"/>
<line x1="407.81" y1="291.90" x2="410.81" y2="291.90" stroke="#000" stroke-width="0.7"/>
<circle cx="409.31" cy="286.65" r="1.6" fill="#000"/>
<line x1="422.90" y1="280.95" x2="422.90" y2="294.45" stroke="#000" stroke-width="0.7"/>
<line x1="421.40" y1="280.95" x2="424.40" y2="280.95" stroke="#000" stroke-width="0.7"/>
<line x1="421.40" y1="294.45" x2="424.40" y2="294.45" stroke="#000" stroke-width="0.7"/>
<circle cx="422.90" cy="287.70" r="1.6" fill="#000"/>
<text transform="translate(294.60,311.50) rotate(-90)" font-family="Liberation Sans, sans-serif" font-weight="bold" font-size="8.7" text-anchor="middle" stroke="#000" stroke-width="0.15">NRG1-driven signal</text>
<text x="375.60" y="374.80" font-family="Liberation Sans, sans-serif" font-weight="bold" font-size="8.5" text-anchor="middle" stroke="#000" stroke-width="0.15">Log NRG1 (pM)</text></svg>
</body></html>
